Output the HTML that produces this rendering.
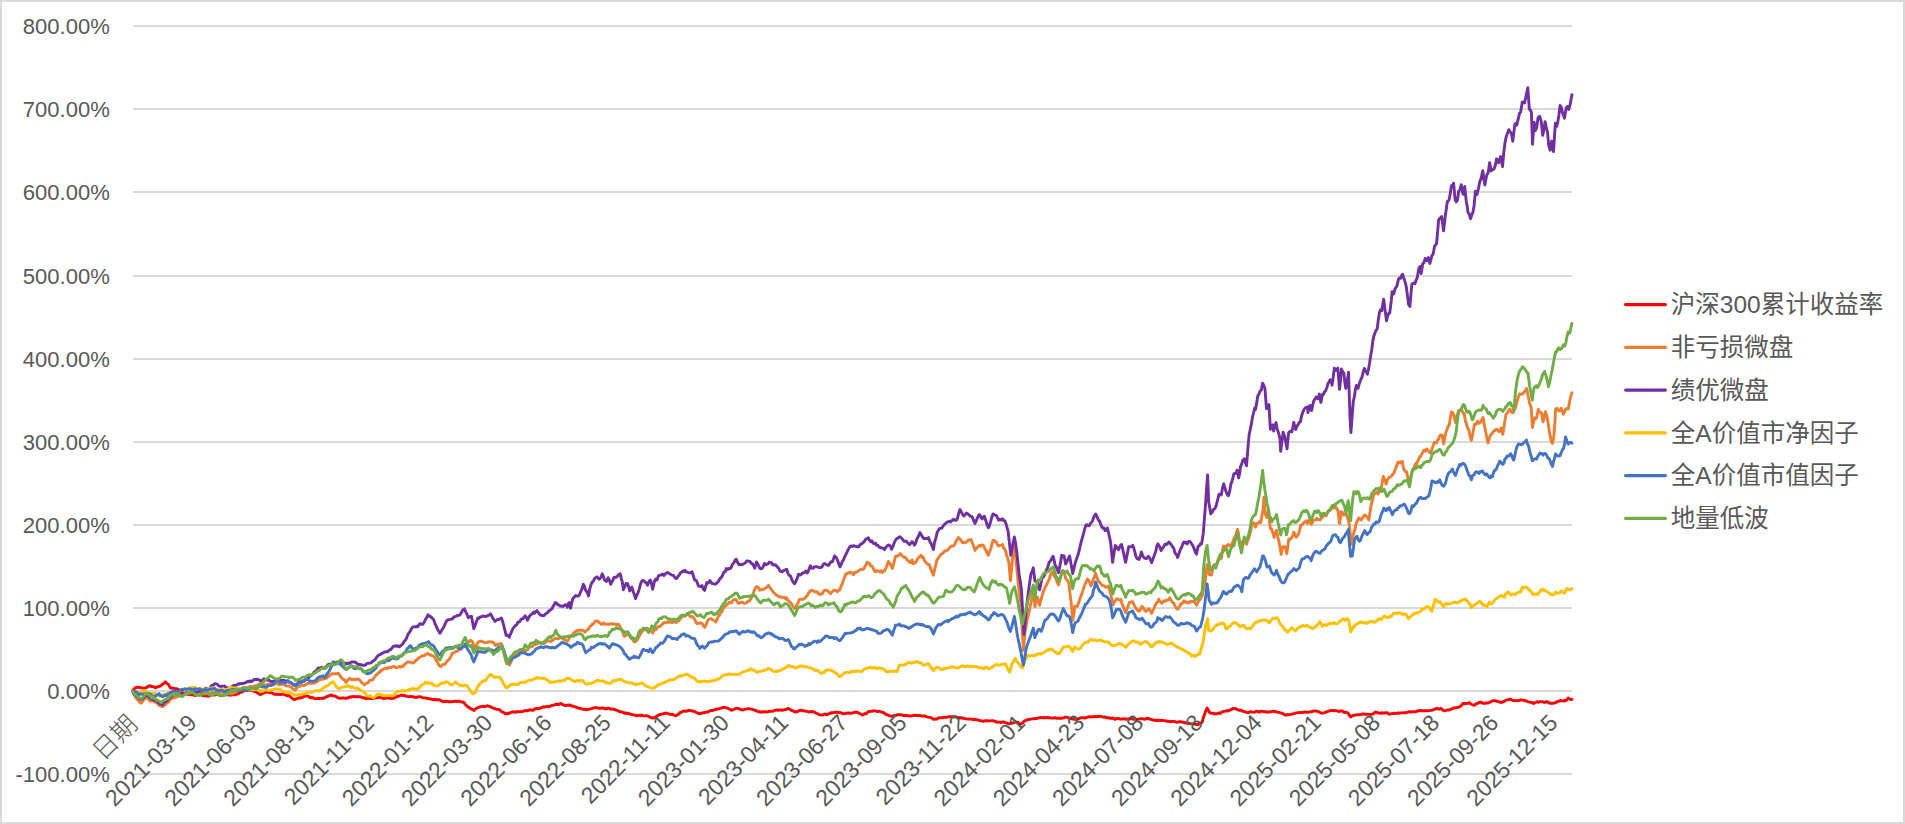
<!DOCTYPE html>
<html lang="zh-CN"><head><meta charset="utf-8"><title>累计收益率</title>
<style>
html,body{margin:0;padding:0;background:#fff;}
body{width:1905px;height:824px;overflow:hidden;}
svg{display:block;}
.ax{font-family:"Liberation Sans","Noto Sans CJK SC",sans-serif;font-size:23px;fill:#595959;}
.lg{font-family:"Liberation Sans","Noto Sans CJK SC",sans-serif;font-size:24.5px;fill:#595959;}
.ser polyline{fill:none;stroke-width:2.9;stroke-linejoin:round;stroke-linecap:round;}
</style></head><body>
<svg width="1905" height="824" viewBox="0 0 1905 824">
<rect x="0" y="0" width="1905" height="824" fill="#fff"/>
<rect x="1" y="1" width="1903" height="822" fill="none" stroke="#D9D9D9" stroke-width="2"/>
<g stroke="#D9D9D9" stroke-width="2">
<line x1="133" y1="26" x2="1572" y2="26"/>
<line x1="133" y1="109" x2="1572" y2="109"/>
<line x1="133" y1="192" x2="1572" y2="192"/>
<line x1="133" y1="276" x2="1572" y2="276"/>
<line x1="133" y1="359" x2="1572" y2="359"/>
<line x1="133" y1="442" x2="1572" y2="442"/>
<line x1="133" y1="525" x2="1572" y2="525"/>
<line x1="133" y1="608" x2="1572" y2="608"/>
<line x1="133" y1="691" x2="1572" y2="691"/>
<line x1="133" y1="774" x2="1572" y2="774"/>
</g>
<g class="ax" text-anchor="end">
<text transform="translate(109.8,33.7) scale(0.985,1)" font-size="22.4">800.00%</text>
<text transform="translate(109.8,116.7) scale(0.985,1)" font-size="22.4">700.00%</text>
<text transform="translate(109.8,199.7) scale(0.985,1)" font-size="22.4">600.00%</text>
<text transform="translate(109.8,283.7) scale(0.985,1)" font-size="22.4">500.00%</text>
<text transform="translate(109.8,366.7) scale(0.985,1)" font-size="22.4">400.00%</text>
<text transform="translate(109.8,449.7) scale(0.985,1)" font-size="22.4">300.00%</text>
<text transform="translate(109.8,532.7) scale(0.985,1)" font-size="22.4">200.00%</text>
<text transform="translate(109.8,615.7) scale(0.985,1)" font-size="22.4">100.00%</text>
<text transform="translate(109.8,698.7) scale(0.985,1)" font-size="22.4">0.00%</text>
<text transform="translate(109.8,781.7) scale(0.985,1)" font-size="22.4">-100.00%</text>
</g>
<g class="ser">
<polyline points="132.6,690.6 133.9,689.3 135.1,687.8 136.4,687.6 137.7,687.2 138.9,687.2 140.2,687.5 141.5,687.7 142.7,688.1 144.0,688.1 145.2,688.0 146.5,687.6 147.8,686.4 149.0,686.2 150.3,685.6 151.5,686.5 152.8,686.6 154.1,686.9 155.3,687.9 156.6,687.0 157.9,686.8 159.1,686.4 160.4,686.1 161.6,684.9 162.9,684.0 164.2,683.1 165.4,681.9 166.5,683.2 167.5,684.0 168.6,684.6 169.5,686.5 170.5,688.0 171.7,688.1 173.0,688.2 174.3,688.5 175.5,688.7 176.8,688.7 178.0,689.3 179.3,690.1 180.6,691.4 181.8,692.0 183.1,693.1 184.4,693.5 185.6,693.3 186.9,693.8 188.1,694.6 189.4,694.2 190.7,694.8 191.9,694.8 193.2,694.8 194.4,695.3 195.7,695.5 197.0,694.7 198.2,694.8 199.5,694.8 200.8,694.5 202.0,695.4 203.3,695.6 204.5,695.8 205.8,695.6 207.1,696.1 208.3,696.2 209.6,695.8 210.9,695.3 212.1,694.9 213.4,694.8 214.6,695.1 215.9,694.7 217.2,694.2 218.4,694.6 219.7,695.3 220.9,695.6 222.2,695.1 223.5,695.1 224.7,694.8 226.0,694.7 227.3,694.5 228.5,694.9 229.8,695.2 231.0,695.0 232.3,694.8 233.6,694.6 234.8,694.7 236.1,694.4 237.4,694.0 238.6,693.4 239.9,692.4 241.1,692.2 242.4,691.8 243.7,690.8 244.9,690.4 246.2,690.2 247.4,690.6 248.7,690.0 250.0,690.1 251.2,690.6 252.5,690.5 253.8,691.4 255.0,691.8 256.3,691.9 257.5,692.9 258.8,693.9 260.1,694.5 261.3,694.4 262.6,693.5 263.8,692.9 265.1,692.7 266.4,691.9 267.6,691.9 268.9,692.4 270.2,692.9 271.4,692.6 272.7,693.2 273.9,694.3 275.2,694.2 276.5,694.1 277.7,694.6 279.0,694.2 280.3,694.6 281.5,694.2 282.8,694.0 284.0,694.3 285.3,695.0 286.6,695.5 287.8,695.7 289.1,695.8 290.3,696.9 291.6,697.9 292.9,698.7 294.1,699.5 295.4,699.3 296.7,698.7 297.9,698.4 299.2,697.7 300.4,698.1 301.7,697.7 303.0,697.0 304.2,696.4 305.5,696.1 306.8,695.8 308.0,696.3 309.3,696.9 310.5,697.9 311.8,697.5 313.1,697.7 314.3,698.6 315.6,698.6 316.8,698.6 318.1,698.3 319.4,698.5 320.6,698.4 321.9,698.1 323.2,698.4 324.4,697.9 325.7,697.2 326.9,696.6 328.2,696.1 329.5,695.6 330.7,695.0 332.0,695.2 333.2,695.9 334.5,696.0 335.8,696.3 337.0,697.2 338.3,697.9 339.6,698.4 340.8,698.1 342.1,698.0 343.3,697.9 344.6,698.2 345.9,698.5 347.1,697.9 348.4,697.8 349.7,697.0 350.9,697.0 352.2,696.6 353.4,696.5 354.6,696.9 355.8,696.7 357.0,696.7 358.2,696.8 359.5,696.6 360.6,696.8 361.8,697.4 363.0,697.8 364.2,697.7 365.4,698.6 366.6,698.1 367.7,698.5 368.9,698.2 370.1,698.3 371.2,698.5 372.4,698.4 373.5,698.5 374.7,697.9 375.8,697.5 377.0,697.8 378.1,697.6 379.3,697.4 380.4,697.1 381.5,697.9 382.8,698.1 384.0,698.5 385.2,698.1 386.5,698.1 387.7,697.7 388.9,698.0 390.1,698.5 391.4,698.1 392.6,698.3 393.8,698.3 395.0,697.7 396.1,696.6 397.3,696.7 398.5,696.2 399.7,695.6 400.9,695.3 402.1,695.0 403.3,695.6 404.5,695.3 405.7,695.8 407.0,696.3 408.2,696.7 409.4,696.6 410.6,696.4 411.9,696.8 413.1,696.6 414.3,697.0 415.5,697.5 416.8,697.4 418.0,696.8 419.2,696.9 420.5,696.7 421.7,697.3 422.9,697.7 424.1,697.9 425.4,697.9 426.6,698.3 427.8,698.4 429.0,698.9 430.3,698.8 431.5,699.1 432.7,699.5 433.9,699.8 435.2,699.1 436.3,700.0 437.4,699.7 438.6,699.8 439.7,699.8 440.8,700.8 441.9,700.9 443.1,701.8 444.2,701.5 445.4,701.5 446.6,701.3 447.8,701.4 449.0,701.9 450.2,701.7 451.3,701.7 452.5,701.5 453.8,701.6 455.0,701.2 456.2,701.2 457.4,701.7 458.7,701.2 459.9,701.3 461.1,701.8 462.3,702.1 463.6,702.1 464.7,703.7 465.9,705.1 467.1,706.0 468.3,707.3 469.4,707.5 470.5,708.6 471.6,709.1 472.7,709.6 473.8,710.4 474.9,709.2 476.0,708.7 477.1,707.9 478.2,707.6 479.3,707.0 480.5,706.7 481.7,706.6 482.9,706.1 484.1,706.6 485.3,706.5 486.4,705.9 487.6,705.8 488.8,706.4 490.0,706.4 491.2,707.1 492.4,707.7 493.5,708.2 494.7,708.5 495.9,709.1 497.1,709.4 498.3,709.4 499.4,709.6 500.5,710.6 501.6,711.6 502.8,712.1 503.9,712.5 505.0,713.8 506.2,713.8 507.4,713.4 508.7,713.7 509.9,712.7 511.2,712.3 512.5,711.8 513.6,712.0 514.8,712.0 516.0,712.2 517.2,711.7 518.4,711.6 519.6,711.6 520.7,711.8 521.9,711.6 523.1,711.4 524.3,710.8 525.5,710.6 526.7,710.7 527.8,710.6 529.0,710.1 530.2,709.7 531.4,710.1 532.6,710.3 533.8,710.0 534.9,708.7 536.1,708.7 537.3,708.5 538.5,708.7 539.7,708.4 540.9,707.7 542.0,707.7 543.2,706.8 544.4,707.0 545.6,706.9 546.8,706.4 547.9,706.7 549.1,706.9 550.3,706.0 551.5,705.5 552.7,705.4 553.9,705.1 555.0,704.7 556.2,704.1 557.4,704.5 558.6,704.5 559.8,703.6 560.9,703.4 562.0,704.3 563.2,704.7 564.3,705.4 565.4,705.6 566.5,705.3 567.7,705.3 568.8,705.0 570.0,705.2 571.2,705.6 572.4,706.2 573.6,706.3 574.8,706.7 575.9,707.2 577.1,707.5 578.3,708.1 579.5,708.3 580.7,708.5 581.9,709.0 583.0,709.2 584.2,709.2 585.4,709.3 586.6,709.8 587.8,709.4 589.0,709.2 590.1,708.9 591.3,708.7 592.5,708.4 593.7,707.7 594.9,707.6 596.1,707.6 597.2,708.0 598.4,708.0 599.6,708.3 600.8,708.2 602.0,707.8 603.2,708.2 604.3,708.3 605.5,709.0 606.7,708.7 607.9,708.1 609.1,708.2 610.3,709.1 611.4,709.2 612.6,709.0 613.8,709.1 615.0,709.7 616.2,710.1 617.4,710.4 618.5,711.2 619.7,711.6 620.9,711.7 622.1,712.1 623.3,712.8 624.4,712.6 625.6,713.5 626.8,713.2 628.0,713.3 629.2,713.8 630.4,713.9 631.5,714.5 632.7,714.8 633.9,714.9 635.0,715.0 636.2,715.7 637.3,715.7 638.4,715.4 639.5,715.2 640.7,715.8 641.8,714.9 642.9,715.6 644.1,715.9 645.2,715.9 646.3,715.5 647.5,716.0 648.7,716.4 649.9,717.1 651.0,717.6 652.2,717.8 653.4,718.0 654.5,717.7 655.6,717.0 656.7,716.3 657.8,715.5 658.9,714.8 660.1,714.5 661.2,714.2 662.3,714.1 663.4,713.6 664.6,713.5 665.7,713.0 666.8,713.4 668.0,713.6 669.2,714.1 670.4,714.3 671.5,714.5 672.7,714.3 673.9,715.2 675.1,715.5 676.3,715.7 677.5,714.7 678.8,713.9 680.1,712.5 681.3,712.1 682.6,711.6 683.8,711.0 685.0,711.1 686.1,711.4 687.3,710.9 688.5,710.5 689.7,710.5 690.9,710.6 692.1,711.0 693.3,711.0 694.6,711.6 695.8,712.3 697.1,712.8 698.4,713.3 699.6,713.8 700.9,713.2 702.1,713.0 703.4,712.7 704.7,712.8 705.8,712.3 706.9,712.1 708.0,712.0 709.2,711.2 710.3,710.6 711.4,710.5 712.6,710.5 713.7,709.9 714.8,709.7 715.9,709.2 717.1,709.2 718.2,709.0 719.3,708.7 720.4,708.2 721.7,708.1 723.0,707.4 724.2,707.3 725.5,707.6 726.8,707.9 727.9,708.3 729.1,709.1 730.3,709.4 731.5,710.4 732.7,709.6 733.8,709.3 735.0,708.9 736.2,708.3 737.5,708.4 738.7,708.7 740.0,709.1 741.3,709.7 742.5,710.0 743.7,709.7 744.8,709.2 745.9,709.1 747.0,708.9 748.2,708.6 749.3,708.7 750.4,708.9 751.7,709.1 752.9,709.6 754.2,709.9 755.5,710.9 756.7,710.8 758.0,711.6 759.2,711.8 760.5,712.3 761.8,711.7 763.0,712.1 764.3,711.7 765.6,711.7 766.8,712.0 768.1,711.6 769.3,711.1 770.6,711.4 771.9,711.3 773.1,711.0 774.4,710.6 775.6,710.1 776.9,710.0 778.2,710.3 779.4,709.9 780.7,710.0 782.0,710.2 783.2,710.0 784.5,709.6 785.7,709.5 787.0,709.1 788.3,708.4 789.5,709.1 790.8,709.9 792.1,710.6 793.3,710.9 794.6,711.7 795.8,712.1 797.1,711.5 798.4,711.1 799.6,710.5 800.9,710.2 802.1,710.5 803.4,710.9 804.7,711.0 805.9,711.0 807.2,711.5 808.5,712.0 809.7,711.8 811.0,711.5 812.2,711.8 813.5,711.6 814.6,712.2 815.8,713.0 816.9,713.6 818.0,713.7 819.1,714.7 820.3,714.9 821.4,715.0 822.5,714.9 823.6,714.6 824.8,713.9 825.9,714.5 827.0,714.7 828.1,714.0 829.3,713.7 830.5,712.8 831.8,713.0 833.1,712.6 834.3,712.4 835.6,712.2 836.7,712.3 837.8,712.2 839.0,712.6 840.1,712.5 841.2,712.9 842.3,713.3 843.5,713.8 844.7,713.6 846.0,713.2 847.3,713.2 848.5,712.9 849.8,713.2 851.0,713.3 852.3,713.0 853.6,712.6 854.8,712.3 856.1,712.1 857.4,712.3 858.6,713.0 859.9,713.7 861.1,714.3 862.4,715.0 863.7,714.3 864.9,713.6 866.2,713.8 867.4,712.3 868.7,711.5 870.0,711.4 871.2,711.2 872.5,711.2 873.8,710.9 875.0,710.8 876.3,711.1 877.5,711.6 878.8,711.3 880.1,711.4 881.3,712.1 882.5,712.3 883.7,712.7 884.9,713.7 886.1,714.4 887.3,714.8 888.6,715.4 889.8,715.8 891.1,716.2 892.4,716.3 893.6,715.6 894.9,715.4 896.2,715.2 897.4,714.8 898.7,714.6 899.9,714.8 901.0,714.7 902.2,715.0 903.4,715.6 904.6,715.4 905.8,715.5 907.0,715.5 908.1,715.7 909.3,715.9 910.5,716.1 911.7,715.7 912.9,715.6 914.1,715.5 915.2,715.0 916.4,715.5 917.6,715.6 918.7,715.3 919.9,715.7 921.0,715.7 922.1,716.0 923.2,716.2 924.4,715.8 925.5,716.1 926.6,716.9 927.7,717.1 928.9,717.3 930.0,717.4 931.1,717.6 932.2,718.4 933.4,719.4 934.6,719.2 935.8,718.9 937.0,719.1 938.2,718.3 939.5,717.6 940.7,717.8 942.0,717.9 943.2,717.5 944.5,717.1 945.8,717.4 947.0,717.3 948.1,716.9 949.3,716.8 950.5,716.7 951.7,716.8 952.9,716.8 954.1,716.7 955.2,716.6 956.4,717.1 957.6,717.7 958.8,717.6 960.0,718.0 961.2,717.8 962.3,718.0 963.5,718.4 964.7,718.6 965.9,718.9 967.1,718.9 968.2,719.1 969.4,718.8 970.6,719.1 971.8,719.1 973.0,719.5 974.2,719.7 975.3,719.2 976.5,719.6 977.7,720.1 978.9,720.2 980.1,720.8 981.3,720.9 982.4,721.0 983.6,721.4 984.8,720.8 986.0,720.7 987.2,720.7 988.4,721.0 989.5,720.9 990.7,720.9 991.9,720.6 993.1,720.6 994.2,721.4 995.3,721.3 996.5,722.2 997.6,722.0 998.7,722.1 999.9,722.3 1001.0,722.5 1002.2,722.3 1003.3,721.8 1004.5,722.3 1005.7,722.7 1006.9,722.9 1008.1,723.8 1009.3,723.7 1010.4,723.3 1011.6,723.4 1012.8,722.9 1014.0,722.8 1015.2,721.6 1016.4,722.4 1017.5,722.1 1018.7,723.4 1019.9,724.4 1021.1,723.6 1022.3,723.3 1023.5,722.1 1024.6,720.8 1025.9,720.4 1027.2,719.8 1028.4,719.4 1029.7,719.3 1030.9,719.1 1032.1,718.9 1033.3,718.6 1034.5,718.7 1035.7,718.6 1036.9,718.3 1038.0,718.2 1039.2,717.9 1040.4,717.4 1041.6,717.8 1042.8,717.9 1044.0,717.5 1045.1,717.8 1046.3,717.8 1047.5,717.3 1048.7,717.8 1049.9,717.7 1051.1,718.1 1052.2,718.1 1053.4,718.1 1054.6,717.6 1055.8,718.1 1057.0,718.2 1058.2,718.2 1059.3,718.3 1060.5,718.3 1061.6,718.3 1062.7,718.0 1063.8,717.9 1065.0,717.1 1066.1,717.1 1067.2,717.4 1068.4,718.0 1069.5,718.0 1070.6,718.2 1071.7,718.9 1072.9,718.9 1074.0,719.3 1075.1,719.4 1076.4,719.4 1077.6,719.2 1078.9,718.5 1080.2,718.1 1081.4,717.6 1082.5,717.6 1083.7,717.8 1084.8,718.2 1085.9,717.6 1087.1,717.2 1088.2,717.1 1089.3,716.7 1090.5,716.8 1091.7,717.0 1092.9,716.8 1094.0,716.9 1095.2,716.4 1096.4,716.7 1097.6,716.3 1098.8,716.5 1100.0,716.3 1101.1,716.4 1102.3,716.9 1103.5,717.1 1104.7,717.0 1105.9,717.4 1107.1,717.9 1108.2,717.7 1109.4,718.0 1110.6,718.4 1111.8,718.4 1113.0,717.9 1114.1,718.8 1115.3,719.3 1116.5,718.5 1117.7,718.4 1118.9,718.7 1120.1,719.0 1121.2,719.1 1122.4,719.0 1123.6,718.7 1124.8,718.9 1126.0,719.3 1127.2,719.0 1128.3,718.8 1129.5,719.0 1130.7,718.6 1131.9,718.8 1133.1,719.0 1134.3,719.4 1135.4,719.3 1136.6,719.6 1137.8,719.1 1139.0,719.1 1140.2,718.8 1141.4,718.7 1142.5,718.9 1143.7,719.0 1144.9,719.3 1146.1,718.4 1147.3,718.7 1148.5,718.2 1149.6,719.3 1150.8,719.3 1152.0,719.7 1153.2,720.1 1154.4,720.0 1155.6,720.6 1156.7,720.6 1157.9,720.0 1159.1,720.3 1160.3,720.8 1161.5,720.2 1162.6,720.6 1163.8,720.6 1165.0,720.7 1166.2,721.0 1167.4,721.4 1168.6,721.3 1169.7,721.6 1170.9,721.4 1172.1,721.6 1173.3,721.4 1174.5,721.4 1175.7,722.1 1176.8,722.2 1178.0,722.1 1179.2,721.7 1180.4,721.6 1181.6,721.9 1182.8,722.3 1183.9,722.3 1185.1,722.8 1186.2,722.9 1187.3,723.5 1188.4,723.4 1189.6,723.4 1190.7,723.9 1191.8,723.9 1193.1,724.1 1194.4,724.0 1195.6,724.1 1196.9,724.5 1198.1,724.7 1199.5,723.6 1200.8,723.0 1202.1,722.2 1203.4,717.6 1204.8,713.6 1205.9,710.7 1207.1,708.0 1208.5,710.5 1210.0,713.0 1211.1,713.1 1212.2,713.3 1213.3,713.2 1214.4,714.0 1215.5,713.7 1216.8,713.8 1218.0,713.2 1219.3,713.0 1220.5,713.3 1221.8,712.0 1223.0,711.5 1224.2,711.4 1225.5,711.1 1226.7,710.6 1227.9,711.0 1229.1,710.6 1230.3,709.7 1231.5,709.6 1232.7,708.5 1233.9,708.4 1235.2,708.6 1236.5,709.1 1237.9,709.8 1239.0,710.3 1240.2,710.2 1241.4,710.1 1242.6,711.1 1243.8,711.6 1245.0,711.7 1246.1,712.3 1247.3,712.6 1248.6,712.7 1249.8,711.8 1251.1,711.8 1252.4,712.1 1253.6,712.1 1254.8,712.3 1255.9,711.3 1257.0,711.4 1258.1,711.5 1259.3,712.2 1260.4,711.5 1261.5,711.2 1262.8,711.4 1264.0,711.8 1265.3,711.7 1266.6,712.2 1267.8,712.0 1269.1,712.0 1270.3,711.7 1271.6,711.7 1272.9,711.4 1274.1,711.2 1275.4,711.6 1276.7,712.0 1277.9,712.1 1279.2,712.4 1280.4,712.9 1281.6,713.1 1282.8,713.6 1284.0,714.3 1285.1,714.9 1286.3,715.2 1287.4,714.4 1288.6,714.7 1289.7,714.6 1290.8,714.4 1291.9,714.0 1293.1,713.9 1294.2,713.6 1295.3,713.1 1296.4,712.9 1297.6,712.8 1298.7,712.6 1299.8,712.3 1301.0,712.6 1302.1,712.5 1303.3,712.4 1304.6,712.0 1305.9,712.1 1307.1,712.4 1308.4,712.2 1309.5,711.9 1310.6,711.8 1311.8,711.7 1312.9,711.1 1314.0,710.9 1315.2,711.0 1316.3,711.1 1317.5,711.3 1318.8,711.9 1320.1,712.5 1321.3,713.0 1322.6,713.1 1323.8,712.8 1325.1,712.4 1326.4,712.0 1327.6,711.5 1328.9,711.2 1330.2,710.6 1331.4,710.5 1332.7,710.6 1333.9,710.3 1335.2,710.6 1336.3,710.8 1337.5,710.9 1338.6,711.7 1339.7,710.9 1340.8,711.1 1342.0,710.8 1343.1,711.6 1344.3,712.6 1345.5,712.0 1346.6,712.4 1347.8,712.8 1349.2,714.9 1350.5,717.1 1351.7,715.9 1352.9,715.7 1354.1,715.2 1355.3,715.1 1356.4,714.8 1357.5,714.9 1358.6,714.7 1359.8,714.6 1360.9,714.4 1362.0,714.1 1363.1,713.8 1364.3,714.1 1365.4,714.4 1366.5,714.1 1367.7,714.2 1368.8,714.4 1369.9,714.4 1371.2,714.4 1372.4,714.4 1373.7,713.4 1375.0,712.2 1376.2,712.1 1377.5,712.7 1378.7,713.0 1380.0,713.2 1381.3,713.0 1382.5,712.8 1383.7,713.2 1384.8,713.0 1385.9,712.6 1387.0,712.6 1388.2,713.6 1389.3,714.3 1390.4,713.8 1391.6,713.6 1392.9,713.5 1394.1,713.2 1395.3,713.6 1396.5,713.4 1397.8,712.9 1399.0,713.3 1400.2,712.9 1401.5,712.9 1402.6,712.9 1403.8,712.8 1405.0,712.9 1406.2,712.7 1407.4,712.2 1408.5,711.7 1409.7,711.6 1410.9,712.3 1412.0,711.8 1413.2,711.8 1414.3,711.9 1415.4,711.8 1416.5,711.4 1417.7,711.0 1418.8,710.8 1420.0,710.4 1421.2,710.7 1422.4,710.8 1423.5,710.7 1424.7,710.6 1425.9,710.9 1427.1,710.7 1428.3,710.6 1429.4,710.6 1430.6,710.4 1431.8,710.4 1433.0,709.8 1434.2,709.4 1435.4,708.9 1436.5,708.5 1437.7,708.7 1438.8,709.1 1439.8,708.8 1440.9,708.3 1442.2,709.6 1443.5,710.5 1444.8,710.9 1445.9,710.5 1447.0,710.0 1448.1,709.9 1449.2,710.0 1450.3,709.4 1451.5,709.0 1452.6,708.6 1453.7,708.1 1454.9,707.7 1456.0,708.0 1457.1,707.5 1458.2,707.3 1459.4,706.9 1460.6,706.1 1461.8,705.0 1463.0,703.5 1464.2,703.5 1465.5,703.7 1466.8,703.4 1468.0,703.4 1469.3,702.6 1470.6,703.8 1471.9,704.5 1473.2,705.1 1474.4,705.2 1475.6,704.1 1476.8,703.6 1477.9,703.3 1479.1,702.6 1480.3,702.2 1481.6,702.5 1482.8,703.2 1484.1,703.3 1485.4,703.4 1486.6,702.9 1487.8,703.1 1488.9,702.7 1490.0,702.2 1491.1,701.5 1492.3,701.2 1493.4,700.6 1494.5,700.6 1495.6,700.9 1496.8,701.2 1497.9,701.6 1499.0,701.6 1500.1,702.3 1501.3,702.3 1502.4,702.3 1503.6,701.6 1504.8,701.0 1505.9,700.3 1507.1,699.9 1508.3,699.6 1509.5,699.2 1510.6,699.2 1511.7,700.0 1512.8,700.5 1513.9,700.6 1515.0,700.8 1516.2,700.6 1517.4,700.5 1518.6,700.6 1519.7,700.3 1520.9,699.8 1522.0,700.1 1523.1,700.1 1524.3,700.6 1525.4,700.7 1526.5,701.0 1527.6,701.6 1528.7,701.9 1529.8,702.2 1530.9,702.4 1532.1,702.4 1533.2,703.5 1534.3,702.9 1535.4,702.7 1536.5,702.0 1537.6,701.6 1538.7,702.3 1539.8,701.6 1540.9,701.6 1542.1,701.7 1543.2,702.0 1544.3,702.4 1545.4,702.3 1546.6,701.6 1547.8,702.1 1549.1,702.9 1550.3,703.4 1551.6,703.3 1552.9,703.2 1554.1,703.1 1555.4,702.7 1556.7,702.1 1557.9,701.3 1559.2,701.2 1560.4,700.5 1561.7,700.9 1563.0,701.0 1564.2,700.5 1565.5,700.8 1566.9,699.8 1568.3,698.0 1569.6,698.9 1570.8,699.5 1572.0,699.4" stroke="#FF0000"/>
<polyline points="132.6,691.2 133.9,693.6 135.1,696.2 136.4,698.4 137.7,699.9 138.9,701.1 140.2,702.8 141.5,703.1 142.7,701.2 144.0,699.4 145.2,698.2 146.5,697.6 147.8,698.5 149.0,699.9 150.3,701.2 151.5,700.9 152.8,701.0 154.1,701.8 155.3,702.1 156.6,703.2 157.9,703.8 159.1,705.5 160.4,705.8 161.6,706.6 162.9,706.6 164.2,705.4 165.4,704.8 166.7,703.2 167.9,702.5 169.2,701.2 170.5,699.2 171.7,698.9 173.0,697.9 174.3,698.2 175.5,697.3 176.8,696.8 178.0,696.5 179.3,696.0 180.6,695.8 181.8,695.1 183.1,695.1 184.4,694.8 185.6,694.5 186.9,692.7 188.1,693.4 189.4,693.2 190.7,692.6 191.9,692.3 193.2,692.6 194.4,693.1 195.7,692.4 197.0,693.2 198.2,692.6 199.5,693.8 200.8,693.2 202.0,693.2 203.3,692.6 204.5,691.8 205.8,692.0 207.1,692.7 208.3,693.4 209.6,693.6 210.9,693.0 212.1,692.0 213.4,692.2 214.6,691.6 215.9,691.3 217.2,691.7 218.4,691.9 219.7,691.7 220.9,691.8 222.2,692.0 223.5,692.5 224.7,693.2 226.0,693.9 227.3,693.6 228.5,693.4 229.8,693.8 231.0,693.6 232.3,693.9 233.6,692.6 234.8,692.3 236.1,692.3 237.4,690.7 238.6,689.9 239.9,689.8 241.1,689.5 242.4,689.9 243.7,688.7 244.9,687.4 246.2,687.4 247.4,687.6 248.7,687.4 250.0,686.4 251.2,686.7 252.5,686.9 253.8,686.5 255.0,685.9 256.3,685.5 257.5,685.4 258.8,684.3 260.1,683.5 261.3,684.0 262.6,684.5 263.8,684.6 265.1,685.2 266.4,684.9 267.6,684.5 268.9,684.1 270.2,684.1 271.4,684.1 272.7,683.7 273.9,684.2 275.2,684.1 276.5,682.5 277.7,683.8 279.0,684.8 280.3,684.6 281.5,684.1 282.8,684.1 284.0,684.6 285.3,685.5 286.6,685.9 287.8,686.1 289.1,685.8 290.3,687.0 291.6,687.1 292.9,688.8 294.1,689.5 295.4,690.3 296.7,688.3 297.9,686.6 299.2,686.0 300.4,686.2 301.7,685.1 303.0,685.4 304.2,685.5 305.5,684.7 306.8,683.9 308.0,683.2 309.3,683.1 310.5,683.4 311.8,683.3 313.1,682.2 314.3,683.2 315.6,681.5 316.8,681.8 318.1,680.7 319.4,680.0 320.6,679.2 321.9,679.3 323.2,679.0 324.4,678.9 325.7,678.5 326.9,677.9 328.2,676.5 329.5,675.5 330.7,674.7 332.0,673.7 333.2,673.9 334.5,673.7 335.8,673.7 337.0,673.7 338.3,673.2 339.6,674.9 340.8,676.9 342.1,678.5 343.3,679.5 344.6,679.7 345.9,682.4 347.1,681.1 348.4,679.6 349.7,678.2 350.9,679.3 352.2,679.7 353.4,679.2 354.7,679.1 355.8,680.0 356.8,679.0 357.9,679.0 359.1,679.5 360.4,680.9 361.7,682.7 362.9,683.5 364.2,684.7 365.5,683.9 366.7,683.1 368.0,682.8 369.2,680.8 370.5,680.1 371.6,680.2 372.8,679.8 373.9,677.9 375.0,676.6 376.1,675.0 377.3,674.2 378.4,672.6 379.5,672.4 380.6,670.7 381.8,670.4 382.9,669.3 384.0,669.0 385.2,668.4 386.3,667.8 387.4,668.6 388.5,667.7 389.7,667.4 390.8,667.9 391.9,667.0 393.0,666.8 394.2,666.3 395.4,667.6 396.7,667.8 397.9,667.0 399.2,666.5 400.5,667.2 401.7,666.2 403.0,666.6 404.3,664.6 405.5,663.9 406.8,662.3 408.0,662.0 409.3,661.9 410.6,662.4 411.8,662.5 413.1,663.1 414.4,662.2 415.6,660.6 416.9,659.9 418.1,658.5 419.4,657.5 420.5,657.0 421.7,656.0 422.8,655.7 423.9,655.9 425.0,655.0 426.2,654.1 427.3,653.4 428.5,654.0 429.8,655.2 431.1,654.8 432.3,655.9 433.6,656.2 434.9,657.6 436.1,660.7 437.4,661.9 438.6,664.8 439.9,666.2 441.2,666.5 442.4,664.7 443.7,664.4 445.0,664.2 446.2,662.3 447.5,660.7 448.7,660.2 450.0,658.0 451.3,655.7 452.5,653.2 453.8,652.7 455.0,652.0 456.3,651.2 457.6,651.3 458.8,649.5 460.1,649.2 461.4,649.0 462.6,647.2 463.9,646.9 465.1,646.0 466.4,644.9 467.7,643.3 468.9,642.0 470.2,640.3 471.5,640.8 472.5,641.8 473.6,645.0 474.6,648.4 475.8,645.9 477.0,644.4 478.2,641.9 479.3,641.7 480.6,641.2 481.9,641.5 483.1,641.9 484.4,642.6 485.6,642.7 486.8,642.4 488.0,642.0 489.2,642.0 490.4,641.6 491.6,642.2 492.7,642.0 493.9,643.0 495.1,645.3 496.4,645.2 497.6,644.2 498.9,644.4 500.2,643.8 501.4,643.7 502.6,647.4 503.8,652.8 505.0,657.7 506.2,662.4 507.2,662.6 508.3,663.0 509.3,664.9 510.5,662.9 511.7,660.1 512.9,656.9 514.0,655.4 515.3,655.5 516.6,654.0 517.8,653.4 519.1,652.9 520.3,652.2 521.5,651.8 522.7,650.9 523.9,650.3 525.1,651.5 526.3,650.1 527.6,649.8 528.9,647.8 530.1,646.9 531.4,646.6 532.6,646.3 533.9,644.8 535.2,644.5 536.4,643.9 537.7,642.7 539.0,643.3 540.2,643.0 541.5,643.0 542.7,643.5 544.0,643.5 545.3,642.4 546.5,641.8 547.8,640.9 549.1,640.8 550.3,641.7 551.5,640.4 552.7,640.6 553.9,639.1 555.0,638.4 556.3,638.6 557.6,638.6 558.8,638.7 560.1,637.7 561.4,637.6 562.6,638.5 563.9,639.4 565.1,639.8 566.4,641.0 567.7,640.7 568.9,638.8 570.2,636.5 571.5,636.1 572.7,634.3 574.0,632.9 575.2,631.6 576.5,631.2 577.8,630.3 579.0,630.1 580.3,630.4 581.5,630.1 582.6,630.3 583.8,631.1 585.0,632.1 586.3,630.6 587.5,629.7 588.8,628.8 590.1,626.2 591.3,625.7 592.4,623.9 593.5,623.8 594.6,622.0 595.7,621.0 596.8,621.0 597.9,621.1 599.1,622.6 600.2,623.0 601.3,624.4 602.4,624.4 603.6,622.9 604.9,624.0 606.2,624.2 607.4,624.4 608.7,624.0 609.9,624.4 611.2,623.5 612.5,624.2 613.7,623.8 615.0,624.2 616.2,624.9 617.4,624.2 618.5,624.2 619.7,626.1 620.9,628.5 622.1,630.9 623.3,633.8 624.4,636.3 625.6,635.3 626.8,635.0 628.0,634.6 629.2,634.5 630.4,636.0 631.7,638.3 633.0,640.2 634.2,641.8 635.5,641.6 636.7,640.8 637.9,638.8 639.0,636.7 640.2,634.3 641.4,632.7 642.6,630.7 643.8,630.2 645.0,628.3 646.0,628.6 647.1,628.2 648.2,629.0 649.3,630.0 650.4,630.7 651.5,631.4 652.6,633.0 653.8,630.9 655.0,629.5 656.2,629.6 657.4,627.3 658.5,626.5 659.7,626.6 660.9,625.5 662.1,624.2 663.2,623.5 664.3,622.4 665.4,622.8 666.5,622.6 667.6,621.6 668.7,622.2 669.8,622.2 670.9,621.7 672.0,622.6 673.1,622.1 674.3,621.9 675.5,622.2 676.7,622.5 677.9,620.9 679.0,620.7 680.2,619.0 681.4,617.4 682.6,616.3 683.8,615.9 685.0,616.2 686.1,614.8 687.3,613.5 688.5,613.8 689.7,616.1 690.9,617.0 692.1,616.3 693.4,617.5 694.7,619.3 696.0,622.3 697.2,623.7 698.4,623.4 699.5,623.0 700.7,623.0 702.0,623.3 703.4,625.8 704.7,627.4 706.0,625.1 707.3,621.4 708.6,619.2 709.9,618.9 711.2,618.7 712.6,619.7 713.6,620.4 714.7,620.6 715.7,622.1 716.9,620.2 718.1,616.6 719.3,615.6 720.4,613.1 721.5,612.4 722.6,609.5 723.8,607.7 724.9,606.3 726.0,605.8 727.1,604.4 728.2,603.6 729.3,602.1 730.4,602.1 731.5,602.9 732.7,600.5 733.8,599.6 735.0,599.5 736.2,599.6 737.4,602.1 738.6,603.5 739.7,602.8 740.8,602.3 741.9,602.2 743.0,602.6 744.1,603.1 745.3,603.4 746.5,602.8 747.6,601.4 748.8,601.4 750.1,600.1 751.5,597.7 752.8,594.8 754.1,590.9 755.4,587.9 756.7,586.6 757.8,587.2 758.8,587.9 759.9,590.3 761.1,589.6 762.2,589.6 763.4,589.4 764.6,588.9 765.9,587.7 767.2,587.2 768.5,585.2 769.9,587.5 771.2,589.3 772.5,590.9 773.7,592.7 774.9,593.4 776.0,594.9 777.2,595.3 778.4,596.6 779.6,596.7 780.8,596.9 782.0,597.6 783.1,597.2 784.3,597.1 785.5,599.0 786.7,597.8 788.0,600.6 789.3,601.4 790.6,602.6 791.9,604.5 793.3,606.7 794.6,608.6 795.8,607.3 796.9,604.6 798.1,603.1 799.3,599.7 800.6,599.2 801.9,599.3 803.2,599.3 804.6,598.4 805.9,597.2 807.2,595.6 808.5,593.2 809.8,591.6 811.1,590.4 812.5,590.4 813.8,591.3 815.1,592.0 816.3,591.7 817.4,592.0 818.6,593.9 819.8,594.5 821.0,594.1 822.2,593.9 823.4,591.6 824.5,590.2 825.7,590.1 826.9,590.4 828.1,591.1 829.3,592.7 830.5,593.7 831.6,592.1 832.8,591.2 834.0,590.2 835.1,590.3 836.2,590.8 837.3,591.8 838.4,590.4 839.5,590.1 840.8,586.9 842.2,584.0 843.5,580.1 844.7,576.9 845.8,574.0 847.0,573.4 848.2,572.9 849.3,573.1 850.4,572.1 851.5,572.9 852.6,573.4 853.7,574.7 854.8,572.3 855.9,572.4 857.0,572.0 858.1,571.0 859.2,570.3 860.6,569.6 861.9,569.5 863.2,569.4 864.5,567.4 865.8,564.9 867.1,562.3 868.3,563.0 869.5,563.4 870.7,565.9 871.9,566.1 873.0,567.9 874.2,570.4 875.4,571.8 876.6,570.6 877.8,571.2 879.0,571.2 880.1,572.0 881.3,570.6 882.4,572.4 883.4,571.4 884.5,571.0 885.8,568.1 887.1,565.2 888.4,561.4 889.7,563.4 891.1,565.6 892.4,568.4 893.4,564.6 894.5,560.5 895.5,556.3 896.7,556.0 897.9,556.1 899.1,554.7 900.3,553.5 901.4,555.2 902.6,556.3 903.8,557.2 905.0,557.0 906.2,558.7 907.4,560.4 908.5,560.6 909.7,562.3 910.9,562.6 912.1,559.9 913.3,563.7 914.4,563.0 915.7,562.4 917.0,560.1 918.2,557.9 919.5,556.7 920.8,555.3 921.9,557.2 923.1,556.9 924.3,560.3 925.5,561.8 926.8,563.5 928.1,564.5 929.4,564.6 930.7,568.9 932.1,572.1 933.4,575.2 934.6,569.5 935.9,564.5 937.1,559.4 938.3,558.2 939.5,556.2 940.6,554.9 941.8,553.8 943.1,553.1 944.5,551.2 945.8,550.7 947.0,550.4 948.1,549.7 949.3,548.2 950.5,546.7 951.6,546.0 952.6,546.1 953.7,545.8 954.8,544.1 956.0,541.4 957.2,539.7 958.4,537.5 959.7,538.8 961.0,540.2 962.3,542.5 963.6,542.9 965.0,542.0 966.3,542.2 967.5,541.4 968.6,539.9 969.8,539.6 971.0,539.5 972.3,543.0 973.6,546.0 975.0,550.4 976.3,548.3 977.6,547.2 978.9,545.6 980.1,546.2 981.3,544.9 982.4,545.1 983.6,545.7 984.8,548.6 986.0,550.4 987.2,553.3 988.4,555.3 989.5,551.9 990.7,549.1 991.9,544.4 993.1,540.1 994.1,540.2 995.2,541.4 996.2,541.9 997.4,544.7 998.6,546.0 999.9,545.4 1001.2,545.4 1002.6,544.3 1003.6,548.0 1004.7,548.8 1005.7,551.3 1006.8,555.8 1007.8,558.4 1008.9,562.8 1010.4,580.7 1011.5,570.1 1012.5,558.8 1013.6,545.8 1014.8,552.3 1016.0,559.4 1017.1,571.8 1018.3,584.6 1019.5,594.4 1020.7,603.6 1022.3,632.1 1023.4,650.3 1025.0,632.1 1026.0,627.3 1027.0,620.5 1028.2,615.9 1029.4,610.1 1030.6,604.3 1031.7,599.2 1033.3,591.3 1034.9,606.6 1036.1,601.5 1037.3,597.1 1038.4,600.6 1039.6,605.3 1040.7,600.6 1041.7,597.2 1042.8,593.3 1043.8,590.2 1044.9,588.1 1045.9,586.0 1047.0,584.1 1048.0,581.7 1049.1,579.9 1050.1,576.1 1051.2,573.1 1052.2,571.8 1053.6,574.7 1054.9,577.0 1056.2,579.0 1057.4,582.8 1058.5,585.0 1059.9,579.1 1061.2,575.0 1062.5,570.5 1063.5,572.4 1064.6,573.9 1065.6,578.2 1066.7,579.8 1067.7,580.8 1068.8,582.9 1070.0,593.6 1071.2,602.9 1072.7,620.3 1073.8,613.8 1074.8,606.2 1076.1,606.3 1077.5,606.1 1078.8,602.2 1080.1,598.4 1081.4,594.8 1082.5,591.7 1083.5,588.3 1084.6,585.1 1085.6,583.1 1086.7,580.7 1087.7,578.9 1088.8,581.1 1089.8,582.8 1090.9,586.0 1092.1,583.0 1093.2,579.6 1094.4,577.4 1095.6,573.1 1096.7,577.1 1097.7,579.2 1098.8,581.9 1099.8,582.2 1100.9,583.8 1101.9,585.3 1103.2,585.6 1104.6,586.2 1105.9,587.4 1106.9,587.0 1108.0,586.0 1109.0,587.7 1110.3,592.5 1111.7,598.5 1113.0,605.1 1114.0,602.4 1115.1,601.2 1116.1,599.4 1117.3,598.7 1118.5,599.6 1119.7,600.0 1120.9,599.4 1122.0,603.9 1123.2,606.5 1124.4,609.5 1125.6,612.8 1126.9,609.3 1128.2,605.7 1129.5,602.2 1130.6,602.3 1131.6,601.7 1132.7,601.6 1133.7,603.8 1134.8,606.2 1135.8,608.1 1137.2,609.9 1138.5,611.1 1139.8,610.8 1141.0,608.1 1142.1,606.3 1143.5,608.0 1144.8,610.6 1146.1,611.3 1147.3,610.3 1148.5,608.8 1149.5,609.6 1150.6,611.1 1151.6,613.3 1152.9,610.4 1154.2,608.1 1155.6,604.3 1156.6,603.0 1157.7,601.7 1158.7,599.2 1159.8,601.3 1160.8,602.2 1161.9,603.3 1163.2,601.9 1164.5,600.6 1165.8,601.0 1167.1,600.0 1168.4,599.8 1169.7,597.8 1171.1,600.2 1172.4,602.2 1173.7,603.0 1175.0,605.9 1176.3,608.1 1177.6,609.2 1178.7,607.6 1179.7,606.0 1180.8,603.8 1181.8,604.0 1182.9,602.3 1183.9,600.8 1185.1,602.2 1186.3,601.8 1187.5,603.1 1188.7,602.7 1189.9,601.5 1191.0,602.0 1192.2,601.2 1193.4,601.6 1194.5,601.6 1195.5,603.5 1196.6,605.2 1197.6,603.2 1198.7,600.6 1199.7,600.0 1200.9,597.6 1202.1,596.2 1203.1,591.1 1204.2,586.3 1205.2,581.1 1206.2,571.0 1207.1,564.8 1208.1,568.4 1209.1,574.5 1210.3,574.7 1211.5,575.1 1212.7,568.9 1213.9,565.1 1214.8,564.6 1215.8,566.9 1216.8,564.1 1217.9,561.4 1218.9,559.7 1220.1,559.0 1221.3,558.4 1222.3,552.3 1223.3,546.3 1224.7,546.1 1226.0,547.8 1227.2,545.4 1228.4,544.3 1229.6,545.5 1230.8,546.5 1231.8,544.9 1232.9,541.6 1233.9,538.5 1235.1,536.8 1236.3,533.7 1237.5,529.3 1238.5,533.9 1239.4,540.0 1240.6,542.2 1241.8,544.0 1243.0,541.9 1244.2,539.9 1245.3,542.3 1246.5,544.3 1247.7,540.2 1248.9,537.8 1250.1,532.9 1251.3,527.6 1252.4,523.8 1253.6,522.8 1254.6,523.9 1255.5,527.2 1256.5,524.0 1257.6,523.2 1258.6,522.9 1259.7,521.4 1260.7,522.7 1261.9,516.1 1263.1,509.5 1263.9,497.3 1265.5,514.8 1267.0,517.6 1268.6,510.8 1270.2,528.3 1271.4,528.8 1272.6,531.9 1274.1,537.4 1275.3,532.7 1276.5,530.2 1277.7,536.3 1278.9,541.6 1280.0,547.0 1281.2,554.4 1282.8,546.8 1284.0,546.8 1285.2,546.9 1286.8,553.7 1287.8,546.5 1288.8,539.2 1290.1,539.4 1291.5,537.6 1292.7,536.2 1293.8,532.2 1295.0,534.8 1296.2,537.2 1297.4,535.4 1298.6,533.8 1299.8,529.0 1300.9,525.5 1302.0,524.5 1303.0,523.9 1304.1,522.3 1305.2,521.7 1306.2,520.8 1307.3,523.5 1308.4,521.4 1309.6,519.3 1311.2,524.4 1312.4,522.4 1313.6,519.9 1314.6,520.1 1315.7,519.8 1316.7,518.2 1317.8,519.8 1318.8,519.4 1319.9,520.1 1321.1,518.4 1322.2,517.2 1323.6,516.0 1324.9,515.4 1326.2,515.7 1327.5,511.8 1328.8,510.6 1330.1,510.5 1331.2,508.4 1332.2,508.3 1333.3,508.1 1334.5,507.2 1335.6,506.5 1336.8,508.7 1338.0,510.8 1339.6,523.6 1341.2,511.8 1342.4,512.4 1343.5,515.2 1344.6,514.2 1345.6,514.1 1346.7,514.4 1347.9,518.2 1349.1,523.7 1350.2,533.0 1351.4,544.3 1352.6,538.3 1353.8,532.6 1355.0,529.2 1356.2,522.9 1357.2,521.2 1358.3,518.8 1359.3,517.7 1360.4,519.5 1361.4,519.9 1362.5,518.3 1363.5,516.4 1364.6,515.0 1365.6,515.8 1366.7,516.5 1367.7,518.0 1368.8,519.9 1370.0,512.5 1371.1,505.0 1372.3,500.9 1373.5,494.7 1374.7,494.0 1375.9,492.7 1377.1,492.2 1378.2,494.1 1379.3,490.5 1380.3,488.6 1381.4,487.6 1382.3,481.9 1383.3,476.4 1384.7,479.1 1386.1,484.2 1387.3,480.1 1388.5,478.1 1389.5,477.2 1390.6,477.1 1391.6,475.9 1392.7,474.5 1393.7,473.3 1394.8,470.7 1395.8,467.9 1396.9,465.1 1397.9,462.2 1399.1,462.1 1400.3,463.0 1401.3,461.8 1402.4,461.4 1403.3,467.1 1404.3,470.1 1405.4,471.7 1406.6,471.8 1407.8,477.8 1409.0,482.0 1410.0,479.4 1411.1,475.5 1412.1,471.9 1413.2,469.6 1414.2,467.7 1415.3,464.1 1416.4,463.6 1417.4,462.1 1418.5,459.7 1419.6,456.7 1420.8,456.2 1422.0,453.9 1423.2,451.4 1424.4,450.0 1425.5,451.1 1426.7,449.1 1427.9,450.4 1429.1,451.9 1430.3,453.0 1431.6,450.0 1432.9,446.4 1434.2,442.4 1435.4,443.0 1436.6,443.1 1437.6,440.1 1438.7,438.9 1439.7,435.8 1440.9,434.9 1442.1,435.2 1443.7,443.7 1444.8,437.2 1446.0,432.0 1447.1,429.5 1448.1,426.3 1449.2,425.2 1450.4,417.6 1451.5,411.9 1452.7,412.8 1453.9,415.2 1455.5,422.6 1456.5,418.3 1457.6,414.2 1458.6,410.8 1459.8,410.4 1461.0,409.5 1462.1,410.8 1463.1,413.1 1464.2,413.6 1465.3,420.5 1466.5,424.0 1467.7,428.3 1468.9,430.3 1470.2,436.7 1471.3,440.4 1472.8,433.5 1474.4,424.4 1475.5,424.8 1476.5,422.9 1477.6,421.3 1478.6,423.5 1479.7,422.1 1480.7,422.2 1481.9,419.6 1483.1,417.6 1484.3,424.7 1485.5,430.8 1487.0,438.6 1488.1,442.9 1489.2,439.2 1490.2,435.6 1491.4,434.4 1492.6,432.9 1493.6,431.1 1494.7,430.8 1495.7,429.5 1496.8,429.4 1497.8,429.8 1498.9,431.8 1500.0,431.3 1501.2,428.0 1502.8,434.3 1503.9,427.6 1504.9,420.9 1506.0,414.2 1507.3,413.0 1508.6,410.7 1509.9,409.1 1511.0,411.5 1512.0,412.5 1513.1,412.8 1514.2,410.1 1515.4,408.1 1516.5,403.5 1517.5,399.8 1518.6,396.2 1519.9,393.8 1521.2,394.2 1522.5,394.1 1523.8,392.0 1525.2,391.2 1526.5,388.4 1527.5,392.7 1528.6,398.0 1529.6,403.3 1531.2,407.5 1532.5,427.6 1533.4,422.7 1534.4,417.9 1535.5,419.0 1536.7,417.4 1538.3,409.4 1539.3,411.9 1540.4,412.4 1541.5,412.8 1543.0,421.8 1544.2,417.0 1545.4,411.6 1547.0,416.6 1548.2,423.7 1549.3,431.6 1550.3,436.2 1551.2,441.5 1552.5,443.4 1553.8,436.2 1554.9,422.8 1555.6,409.3 1557.0,408.3 1558.3,410.5 1559.6,411.1 1561.2,408.2 1562.4,411.3 1563.5,414.3 1564.7,411.4 1565.9,408.6 1567.1,408.7 1568.3,409.1 1569.8,400.5 1570.9,395.5 1571.9,392.8" stroke="#ED7D31"/>
<polyline points="132.6,691.2 133.9,694.1 135.1,695.3 136.4,696.3 137.7,697.0 138.9,698.3 140.2,699.1 141.5,699.4 142.7,698.5 144.0,697.3 145.2,696.4 146.5,695.0 147.8,695.3 149.0,696.7 150.3,698.3 151.5,699.2 152.8,699.3 154.1,700.2 155.3,700.2 156.6,700.5 157.7,702.2 158.9,703.1 160.0,704.1 161.1,704.1 162.3,704.9 163.4,703.5 164.5,702.3 165.6,701.8 166.7,701.0 167.9,699.7 169.2,698.2 170.5,697.3 171.7,695.8 173.0,695.2 174.3,695.0 175.5,694.1 176.8,693.8 178.0,694.1 179.3,694.0 180.6,694.0 181.8,694.4 183.1,693.4 184.4,693.4 185.6,692.8 186.9,693.1 188.1,692.5 189.4,692.4 190.7,692.0 191.9,691.9 193.2,692.5 194.4,691.9 195.7,692.2 197.0,692.1 198.2,691.3 199.5,691.2 200.8,691.0 202.0,690.6 203.3,689.5 204.5,689.0 205.8,688.2 207.1,688.9 208.3,689.7 209.6,688.6 210.9,686.7 212.1,685.1 213.4,685.0 214.6,683.9 215.9,683.8 217.2,684.1 218.4,685.6 219.7,686.2 220.9,686.5 222.2,686.1 223.5,686.1 224.7,686.0 226.0,688.0 227.3,687.6 228.5,688.9 229.8,689.0 231.0,688.3 232.3,686.4 233.6,685.5 234.8,685.5 236.1,685.3 237.4,684.4 238.6,683.7 239.9,684.0 241.1,683.4 242.4,683.6 243.7,683.2 244.9,683.0 246.2,682.2 247.4,681.5 248.7,681.8 250.0,680.8 251.2,681.8 252.5,680.9 253.8,679.7 255.0,679.5 256.3,679.5 257.5,679.3 258.8,679.8 260.1,680.3 261.3,681.0 262.6,680.3 263.8,678.8 265.1,679.5 266.4,679.7 267.6,680.1 268.9,680.3 270.2,681.1 271.4,681.7 272.7,681.3 273.9,681.6 275.2,680.2 276.5,680.4 277.7,679.7 279.0,679.8 280.3,680.7 281.5,680.1 282.8,680.2 284.0,680.2 285.3,681.1 286.6,681.0 287.8,680.7 289.1,682.1 290.3,682.4 291.6,683.0 292.9,684.4 294.1,684.5 295.4,685.3 296.7,684.0 297.9,683.0 299.2,681.6 300.4,681.6 301.7,682.1 303.0,681.0 304.2,681.2 305.5,679.1 306.8,678.9 308.0,678.1 309.3,677.1 310.5,676.0 311.8,674.8 313.1,673.8 314.3,671.7 315.6,671.1 316.8,670.1 318.1,668.0 319.4,667.9 320.6,667.7 321.9,667.4 323.2,668.6 324.4,668.2 325.7,667.2 326.9,665.9 328.2,664.5 329.5,664.2 330.7,664.4 332.0,663.4 333.2,663.6 334.5,662.7 335.8,662.9 337.0,662.2 338.3,662.0 339.6,662.3 340.8,662.4 342.1,662.5 343.3,662.4 344.6,663.4 345.9,664.0 347.1,663.2 348.4,663.6 349.7,662.8 350.9,662.4 352.2,661.9 353.6,661.9 354.9,662.2 356.3,662.8 357.4,663.9 358.6,664.6 359.7,664.5 360.8,664.7 361.9,664.9 363.1,665.4 364.2,665.3 365.5,665.0 366.7,663.7 368.0,663.3 369.2,663.1 370.5,663.0 371.6,662.4 372.8,661.0 373.9,660.6 375.0,659.7 376.1,657.9 377.3,656.6 378.4,655.2 379.5,654.9 380.6,654.3 381.8,653.4 382.9,653.0 384.0,652.3 385.2,651.9 386.3,651.8 387.4,651.9 388.5,650.8 389.7,649.9 390.8,649.4 391.9,648.2 393.0,646.6 394.2,646.2 395.4,645.8 396.7,646.4 397.9,645.7 399.2,646.8 400.5,646.0 401.7,644.8 403.0,643.7 404.3,641.1 405.5,640.1 406.8,637.5 408.0,634.3 409.1,632.8 410.3,631.1 411.5,628.7 412.8,626.9 414.0,626.9 415.3,626.7 416.6,626.5 417.8,626.7 419.1,624.5 420.3,623.6 421.6,624.2 422.9,624.2 424.1,622.5 425.4,619.6 426.8,617.2 428.1,614.8 429.2,616.4 430.3,616.3 431.4,617.4 432.5,618.4 433.6,619.6 434.9,623.3 436.1,625.9 437.4,628.9 438.6,630.9 439.9,633.3 441.2,631.3 442.4,629.1 443.7,627.2 445.0,624.1 446.2,621.5 447.5,619.9 448.7,619.8 450.0,619.5 451.3,619.0 452.5,619.1 453.8,617.0 455.0,616.6 456.3,616.1 457.6,615.4 458.8,615.2 459.9,615.1 461.0,613.2 462.1,611.2 463.2,609.7 464.4,608.8 465.7,611.9 467.0,614.3 468.3,617.7 469.3,616.7 470.4,616.8 471.5,616.2 472.6,622.5 473.8,628.6 475.1,625.5 476.4,621.7 477.8,617.9 479.0,618.4 480.3,616.9 481.5,616.8 482.8,616.0 484.1,616.1 485.3,616.6 486.6,616.1 487.9,615.5 489.1,615.2 490.4,613.8 491.6,615.6 492.7,617.9 493.9,619.8 495.1,621.4 496.4,620.2 497.6,619.4 498.9,619.5 500.2,618.6 501.4,618.0 502.6,621.3 503.8,625.8 505.0,630.7 506.2,635.6 507.2,635.0 508.3,635.5 509.3,637.2 510.5,634.1 511.7,631.4 512.9,628.7 514.0,627.2 515.3,625.8 516.6,624.9 517.8,622.3 519.1,622.1 520.3,620.6 521.5,618.9 522.7,618.9 523.9,617.6 525.1,615.8 526.3,617.6 527.4,620.3 528.8,617.3 530.1,615.4 531.4,614.3 532.5,613.7 533.6,612.0 534.7,613.2 535.8,611.5 536.9,610.6 538.2,612.3 539.5,614.2 540.9,615.3 542.1,615.2 543.4,615.9 544.6,615.0 545.9,613.6 547.2,613.0 548.3,611.6 549.5,610.5 550.7,609.7 551.9,609.0 552.9,606.7 554.0,605.2 555.0,602.7 556.2,602.7 557.4,604.3 558.6,604.8 559.8,606.1 560.9,605.9 562.0,606.3 563.1,606.4 564.2,605.4 565.3,604.6 566.3,604.9 567.4,607.3 568.4,603.5 569.5,602.5 570.6,608.2 571.6,603.8 572.7,598.9 573.7,597.8 574.8,596.6 575.8,595.5 576.9,595.9 578.0,596.2 579.0,595.6 580.3,592.6 581.6,589.9 583.4,584.3 584.4,586.4 585.3,589.9 586.4,591.1 587.5,593.1 588.5,595.9 589.6,589.7 590.6,585.9 591.7,583.0 592.7,581.8 593.8,580.3 594.8,578.2 595.9,577.6 597.0,576.8 598.0,578.1 599.1,579.2 600.1,578.6 601.2,576.7 602.2,573.8 603.3,576.2 604.4,579.9 605.4,580.7 606.5,581.5 608.0,577.7 609.4,580.1 610.7,584.3 611.7,582.1 612.8,580.5 613.9,577.4 614.9,577.1 616.0,577.5 617.0,576.5 618.1,575.4 619.1,574.4 620.2,573.7 621.2,578.4 622.3,581.7 623.4,589.7 624.7,586.9 626.0,583.5 627.6,583.8 628.6,586.7 629.7,591.0 630.7,588.9 631.8,587.1 633.0,591.0 634.3,594.6 635.5,598.6 636.8,595.4 638.1,592.7 639.4,588.3 640.6,583.8 641.8,581.0 643.2,580.3 644.5,581.5 645.5,582.3 646.6,583.3 647.6,585.3 649.0,581.2 650.3,580.0 651.5,583.5 652.7,589.2 654.5,581.1 655.8,579.1 657.1,579.9 658.2,576.3 659.3,575.2 660.3,575.2 661.5,574.8 662.8,574.1 664.0,575.4 665.2,574.1 666.5,572.6 667.7,572.6 668.8,573.1 669.8,573.9 670.9,574.6 672.2,575.1 673.5,575.4 674.6,577.2 675.6,578.4 676.7,578.6 677.9,576.6 679.1,575.3 680.4,572.8 681.7,572.1 683.0,570.9 684.1,571.5 685.1,570.3 686.2,571.8 687.2,572.0 688.3,572.6 689.4,572.9 690.7,572.8 692.0,571.7 693.3,575.5 694.6,579.8 696.2,580.5 697.3,582.6 698.3,585.8 699.6,586.3 700.8,586.5 702.0,585.5 703.3,589.2 704.7,590.4 705.7,586.1 706.8,582.6 707.8,583.2 708.9,582.6 709.9,580.5 711.0,582.0 712.1,583.6 713.1,583.6 714.2,584.0 715.2,584.2 716.3,583.3 717.3,582.7 718.7,581.0 720.0,578.5 721.3,577.5 722.6,575.2 723.9,571.9 725.1,571.9 726.3,568.5 727.6,569.5 729.0,568.4 730.2,568.7 731.4,566.9 732.7,563.8 733.9,562.9 735.1,560.1 736.3,559.2 737.7,562.6 739.0,564.7 740.0,564.1 741.1,564.6 742.2,564.7 743.2,564.1 744.3,563.4 745.3,563.0 746.6,561.0 747.8,561.0 749.0,561.4 750.1,561.5 751.1,563.3 752.2,563.6 753.5,565.6 754.8,568.2 756.4,561.9 757.6,563.6 758.7,565.8 759.9,568.5 761.1,568.7 762.2,568.3 763.4,566.1 764.6,563.4 765.8,564.8 767.0,564.2 768.2,563.6 769.3,562.1 770.5,562.9 771.7,562.7 772.9,565.0 774.1,564.9 775.3,564.6 776.4,566.0 777.6,567.2 778.8,568.5 779.9,570.8 780.9,571.5 782.0,571.9 783.1,570.9 784.3,570.4 785.5,569.6 786.7,569.3 788.0,573.5 789.3,575.4 790.6,576.0 791.9,579.9 793.3,582.3 794.6,583.7 795.9,581.5 797.2,578.4 798.5,574.2 799.8,575.1 801.1,574.7 802.5,573.0 803.5,573.1 804.6,572.4 805.6,571.1 807.2,573.0 808.2,571.4 809.3,568.4 810.3,565.8 811.6,568.0 812.9,568.4 814.1,567.0 815.4,566.8 816.7,566.7 818.0,567.2 819.3,567.6 820.6,567.7 821.9,567.0 823.2,564.5 824.5,563.4 825.9,564.3 827.2,565.0 828.5,565.4 829.8,563.4 831.1,561.7 832.4,561.7 833.5,559.0 834.5,556.0 835.6,556.9 836.7,558.3 837.8,560.9 838.9,564.3 840.0,566.8 841.2,564.5 842.3,561.5 843.5,559.8 844.7,556.8 845.8,554.6 847.0,552.2 848.2,549.7 849.3,547.6 850.4,546.1 851.5,545.9 852.6,546.5 853.7,545.6 855.0,546.1 856.4,546.5 857.7,546.8 858.8,546.8 860.0,544.7 861.2,544.2 862.4,543.3 863.6,542.1 864.8,540.6 865.9,539.2 867.1,538.7 868.3,537.7 869.5,540.3 870.7,541.6 871.9,540.8 873.0,543.2 874.2,543.7 875.4,543.1 876.6,545.4 877.8,545.2 879.0,547.1 880.1,547.5 881.3,547.7 882.4,548.1 883.4,548.4 884.5,549.6 885.8,547.4 887.1,545.9 888.4,545.0 889.5,545.3 890.5,546.4 891.6,549.2 892.9,546.4 894.2,542.8 895.5,540.2 896.8,538.6 898.1,538.1 899.5,536.8 900.6,537.2 901.7,538.3 902.8,539.6 903.9,541.2 905.0,541.2 906.2,541.3 907.4,542.4 908.5,543.7 909.7,544.7 910.9,543.2 912.1,541.6 913.3,542.9 914.4,545.1 915.6,543.5 916.7,539.5 917.8,537.5 918.9,535.1 920.0,532.5 921.3,535.0 922.6,537.0 923.9,538.6 925.1,538.4 926.3,538.5 927.5,538.5 928.6,537.6 929.8,541.4 931.0,543.4 932.2,546.2 933.4,549.6 934.6,541.9 935.9,538.3 937.1,532.5 938.3,530.6 939.5,528.6 940.6,528.3 941.8,528.2 943.1,526.0 944.5,524.4 945.8,523.2 947.0,521.9 948.1,521.9 949.3,521.3 950.5,522.1 951.6,520.8 952.6,520.0 953.7,519.2 954.7,520.3 955.8,520.4 956.8,519.7 957.9,516.7 958.9,512.7 960.0,509.5 961.3,512.1 962.6,514.3 963.9,516.0 965.2,514.4 966.5,513.0 967.9,513.9 969.2,515.2 970.5,516.3 971.8,516.4 972.8,518.4 973.9,521.1 975.0,523.5 976.3,520.6 977.6,517.7 978.9,514.8 979.9,514.9 981.0,517.3 982.1,519.1 983.2,517.2 984.4,516.2 985.7,520.2 987.0,524.4 988.4,527.8 989.5,525.5 990.7,521.4 991.9,516.8 993.1,513.9 994.1,514.5 995.2,515.2 996.2,515.4 997.4,517.5 998.6,520.2 999.9,519.2 1001.2,520.0 1002.6,518.9 1003.7,520.6 1004.9,521.0 1006.0,523.8 1007.0,527.5 1008.1,531.2 1009.4,543.2 1010.8,555.4 1012.0,548.9 1013.2,542.1 1014.4,537.0 1015.6,543.2 1016.8,552.4 1017.9,562.5 1019.1,574.2 1020.3,581.3 1021.5,590.4 1022.7,612.5 1024.0,634.4 1025.6,617.3 1027.1,602.5 1028.6,590.5 1029.8,581.9 1030.9,574.0 1032.1,571.7 1033.3,567.8 1034.9,581.1 1036.1,581.8 1037.3,581.3 1038.4,586.1 1039.6,589.8 1040.8,584.3 1042.0,578.1 1043.0,577.4 1044.1,576.0 1045.1,573.5 1046.5,570.0 1047.8,567.3 1049.1,562.3 1050.4,561.0 1051.7,558.6 1053.0,556.2 1054.1,560.1 1055.1,565.2 1056.2,566.6 1057.4,570.2 1058.5,572.7 1059.6,567.1 1060.7,561.6 1061.7,555.3 1062.9,555.8 1064.1,556.0 1065.6,563.9 1067.0,561.5 1068.3,558.7 1069.6,556.0 1070.6,561.4 1071.7,567.8 1072.7,573.5 1073.9,568.4 1075.1,563.4 1076.2,559.9 1077.2,557.0 1078.3,554.1 1079.6,548.7 1080.9,543.0 1082.2,538.4 1083.5,533.5 1084.8,528.5 1086.2,524.8 1087.2,524.6 1088.3,525.6 1089.3,525.7 1090.4,523.7 1091.4,522.4 1092.5,521.1 1093.5,517.9 1094.6,515.4 1095.6,514.0 1096.9,516.2 1098.2,519.7 1099.6,521.3 1100.7,524.3 1101.9,527.1 1103.0,528.1 1104.0,527.9 1105.1,530.6 1106.3,529.5 1107.4,528.0 1108.5,532.7 1109.5,537.2 1110.6,542.1 1111.6,552.2 1112.6,562.3 1114.0,553.3 1115.3,545.4 1116.4,546.6 1117.4,548.5 1118.5,549.6 1119.5,547.3 1120.6,545.1 1121.6,544.6 1123.0,550.5 1124.3,556.6 1125.6,562.4 1126.6,557.4 1127.7,551.9 1128.7,546.8 1130.1,546.8 1131.4,546.9 1132.7,545.4 1133.7,547.5 1134.8,552.0 1135.8,555.9 1136.9,558.4 1137.9,559.0 1139.0,559.4 1140.2,556.6 1141.4,552.1 1142.7,555.8 1144.0,557.7 1145.3,558.4 1146.4,558.7 1147.4,557.2 1148.5,556.3 1149.5,558.0 1150.6,560.0 1151.6,562.7 1152.7,559.5 1153.7,556.9 1154.8,553.8 1155.8,551.2 1156.9,545.9 1157.9,543.8 1159.0,545.7 1160.0,547.2 1161.1,550.6 1162.4,548.3 1163.7,546.9 1165.0,544.2 1166.3,544.5 1167.6,543.5 1169.0,542.0 1170.1,543.4 1171.3,544.7 1172.5,546.6 1173.7,548.1 1175.0,553.1 1176.3,554.3 1177.6,557.5 1178.7,554.5 1179.7,551.3 1180.8,548.7 1181.8,546.8 1182.9,543.7 1183.9,542.0 1185.0,542.7 1186.0,542.0 1187.1,544.0 1188.1,542.1 1189.2,541.2 1190.3,541.7 1191.6,543.8 1192.9,545.8 1194.2,548.9 1195.4,552.3 1196.6,554.1 1198.1,546.2 1199.3,545.8 1200.4,543.7 1201.6,543.7 1203.2,534.0 1204.3,519.9 1205.5,505.0 1206.5,489.7 1207.6,474.9 1208.7,502.1 1209.7,507.7 1210.7,513.7 1212.1,512.4 1213.4,509.5 1214.6,508.9 1215.8,506.7 1216.8,503.1 1217.9,499.0 1218.9,494.5 1220.1,494.1 1221.3,495.0 1222.5,488.1 1223.7,483.8 1224.8,487.5 1226.0,491.5 1227.2,494.4 1228.4,495.7 1229.6,491.5 1230.8,484.4 1231.8,481.9 1232.9,477.8 1233.9,473.7 1235.0,473.4 1236.0,473.6 1237.1,470.2 1238.6,477.8 1239.6,473.7 1240.5,466.6 1241.7,463.9 1242.8,460.3 1244.4,458.7 1245.4,462.7 1246.5,465.8 1247.8,449.9 1249.1,434.8 1250.2,429.8 1251.3,424.4 1252.3,418.2 1253.5,413.0 1254.7,408.0 1255.5,409.6 1256.6,403.6 1257.8,395.7 1259.0,394.1 1260.2,390.9 1261.4,389.7 1262.6,383.3 1263.7,385.2 1264.9,388.3 1266.5,408.7 1267.7,405.9 1268.9,404.6 1270.4,429.3 1271.6,425.9 1272.8,424.7 1273.6,431.1 1274.8,427.4 1276.0,422.6 1277.1,428.6 1278.3,432.2 1279.9,437.9 1280.7,451.3 1281.9,442.1 1283.1,432.3 1284.6,436.0 1285.8,442.2 1287.0,448.8 1288.6,432.9 1289.6,431.7 1290.7,431.3 1291.7,431.8 1292.8,427.6 1293.8,422.3 1294.7,426.4 1295.7,429.6 1296.9,426.0 1298.0,424.8 1299.2,422.3 1300.4,421.8 1301.6,415.9 1302.8,412.2 1304.0,409.5 1305.1,408.0 1306.3,407.4 1307.5,406.9 1308.0,412.5 1308.9,408.6 1309.9,405.4 1311.5,410.6 1312.6,405.6 1313.8,400.6 1315.0,399.1 1316.2,397.0 1317.8,398.8 1319.3,394.1 1320.9,402.4 1322.5,394.2 1323.5,394.2 1324.6,391.7 1325.6,390.7 1326.8,388.0 1328.0,383.4 1329.1,382.0 1330.1,379.8 1331.2,380.5 1332.0,385.2 1333.1,378.0 1334.3,368.2 1335.9,370.4 1336.8,370.4 1337.8,368.0 1339.5,389.4 1340.5,380.9 1341.4,369.0 1342.6,371.7 1343.8,373.2 1344.8,382.2 1345.8,388.4 1347.2,381.1 1348.5,372.1 1350.1,419.1 1350.9,432.6 1352.1,416.4 1353.2,402.3 1354.3,396.8 1355.4,389.6 1356.4,385.4 1358.0,388.4 1359.6,382.7 1360.7,379.8 1361.9,377.3 1363.1,372.5 1364.3,368.4 1365.3,370.4 1366.4,372.0 1367.4,374.2 1368.5,369.2 1369.5,363.5 1370.6,356.1 1371.7,350.0 1372.8,341.1 1373.9,335.9 1375.0,333.1 1376.0,330.1 1377.1,329.4 1378.2,320.6 1379.4,312.6 1380.6,309.7 1381.8,310.7 1382.7,304.6 1383.7,299.1 1385.1,310.2 1386.5,320.9 1387.6,316.2 1388.6,313.5 1389.7,313.3 1391.3,300.4 1392.1,291.7 1393.6,294.0 1395.2,288.5 1396.8,286.3 1397.7,282.6 1398.7,278.5 1399.7,278.0 1400.7,278.3 1401.7,275.2 1402.6,274.2 1403.6,277.6 1404.7,280.5 1406.2,286.2 1407.4,295.1 1408.6,304.5 1409.9,306.5 1410.8,296.0 1411.8,284.4 1412.8,283.5 1413.9,283.0 1414.9,283.8 1416.1,280.2 1417.3,277.5 1418.9,268.2 1420.1,266.5 1421.2,273.5 1422.8,263.4 1424.0,262.7 1425.2,258.4 1426.8,260.7 1428.3,257.6 1429.9,263.4 1431.0,259.1 1432.0,255.4 1433.1,254.2 1434.6,246.2 1435.6,244.9 1436.5,243.9 1437.6,232.2 1438.6,220.1 1439.6,218.6 1440.7,217.6 1441.7,216.6 1442.7,224.2 1443.6,230.8 1445.4,215.2 1446.3,209.0 1447.3,201.5 1448.3,201.3 1449.2,199.2 1450.2,194.1 1451.3,186.0 1452.4,185.2 1453.6,183.2 1455.2,200.1 1456.4,201.8 1457.6,199.8 1458.7,191.0 1459.9,190.0 1461.2,184.7 1462.1,190.2 1463.1,194.3 1464.7,186.5 1466.2,201.0 1467.2,206.3 1468.1,212.6 1469.3,214.2 1470.5,218.8 1471.7,215.3 1472.9,212.4 1474.1,205.2 1475.4,191.3 1477.0,194.5 1478.3,189.1 1479.7,182.0 1481.2,178.0 1482.8,170.7 1483.8,179.2 1484.9,185.1 1485.8,179.8 1486.8,174.8 1488.3,172.4 1489.6,162.6 1491.2,170.9 1492.3,169.7 1493.5,169.4 1494.6,167.7 1495.6,164.2 1496.5,159.0 1497.6,159.5 1498.6,162.8 1499.6,159.6 1500.6,156.6 1501.6,161.5 1502.5,166.6 1503.7,153.4 1504.9,143.4 1506.0,137.5 1507.4,133.4 1508.8,129.7 1510.1,131.9 1511.5,133.7 1512.8,141.2 1513.8,132.7 1514.8,124.3 1515.8,123.5 1516.7,125.2 1518.3,118.7 1519.5,113.2 1520.7,112.0 1522.2,102.2 1523.4,102.2 1524.6,102.9 1526.2,95.2 1527.8,87.7 1529.3,109.0 1530.4,110.1 1531.4,112.5 1532.5,144.3 1534.1,122.1 1535.3,130.6 1536.7,127.7 1538.0,117.8 1539.6,116.2 1541.2,121.1 1542.7,135.4 1543.9,129.5 1545.1,121.8 1546.3,128.0 1547.5,131.9 1548.7,145.4 1550.2,150.2 1551.7,141.0 1553.5,151.6 1554.4,137.6 1555.4,123.1 1556.5,126.5 1557.7,122.5 1558.9,115.2 1560.1,105.4 1561.3,107.3 1562.5,112.7 1563.5,115.3 1564.5,118.2 1565.5,111.7 1566.4,107.4 1567.6,106.5 1568.8,109.5 1570.3,103.7 1571.9,94.7" stroke="#7030A0"/>
<polyline points="132.6,691.2 133.9,691.7 135.1,691.6 136.4,691.8 137.7,691.8 138.9,692.2 140.2,692.0 141.5,691.8 142.7,692.1 144.0,691.4 145.2,691.4 146.5,692.1 147.8,692.3 149.0,692.8 150.3,693.4 151.5,693.7 152.8,693.4 154.1,693.4 155.3,693.3 156.6,694.5 157.9,695.4 159.1,696.1 160.4,695.9 161.6,696.3 162.9,695.0 164.2,694.3 165.4,694.3 166.7,693.6 167.9,694.0 169.2,693.3 170.5,692.9 171.7,692.9 173.0,692.8 174.3,692.2 175.5,692.4 176.8,693.0 178.0,691.9 179.3,691.4 180.6,690.5 181.8,689.4 183.1,689.6 184.4,689.6 185.6,689.5 186.9,689.5 188.1,688.3 189.4,688.3 190.7,687.9 191.9,687.3 193.2,687.5 194.4,687.7 195.7,687.8 197.0,688.9 198.2,689.0 199.5,688.2 200.8,688.7 202.0,689.4 203.3,689.3 204.5,688.8 205.8,689.7 207.1,689.1 208.3,689.3 209.6,688.5 210.9,688.3 212.1,688.0 213.4,689.0 214.6,689.9 215.9,689.9 217.2,689.3 218.4,689.6 219.7,690.0 220.9,689.5 222.2,689.4 223.5,690.2 224.7,689.8 226.0,689.4 227.3,689.2 228.5,688.5 229.8,687.2 231.0,687.8 232.3,687.6 233.6,687.9 234.8,687.9 236.1,688.5 237.4,688.1 238.6,688.9 239.9,688.8 241.1,689.0 242.4,689.2 243.7,689.0 244.9,689.6 246.2,688.7 247.4,688.6 248.7,689.6 250.0,689.8 251.2,689.6 252.5,690.1 253.8,689.7 255.0,689.5 256.3,689.3 257.5,690.1 258.8,690.1 260.1,690.8 261.3,690.7 262.6,691.1 263.8,690.8 265.1,689.8 266.4,689.8 267.6,690.2 268.9,690.5 270.2,690.2 271.4,689.8 272.7,689.8 273.9,689.2 275.2,688.9 276.5,688.9 277.7,689.1 279.0,689.0 280.3,689.5 281.5,690.3 282.8,691.3 284.0,692.1 285.3,692.0 286.6,692.4 287.8,692.2 289.1,692.1 290.3,693.0 291.6,693.4 292.9,694.2 294.1,694.3 295.4,695.5 296.7,695.1 297.9,694.4 299.2,694.2 300.4,694.4 301.7,694.1 303.0,693.8 304.2,693.7 305.5,693.9 306.8,692.8 308.0,692.3 309.3,691.9 310.5,692.4 311.8,692.1 313.1,692.0 314.3,691.0 315.6,690.5 316.8,690.8 318.1,690.5 319.4,691.1 320.6,690.1 321.9,689.4 323.2,687.8 324.4,687.3 325.7,686.5 326.9,685.9 328.2,685.5 329.5,684.4 330.7,682.9 332.0,682.2 333.2,681.8 334.5,683.8 335.8,685.8 337.0,687.5 338.3,688.4 339.6,688.5 340.8,688.1 342.1,687.0 343.3,687.1 344.6,687.1 345.9,686.2 347.1,686.0 348.4,685.6 349.7,686.6 350.9,687.6 352.2,686.5 353.4,687.4 354.7,688.3 355.9,688.4 357.1,687.9 358.3,688.6 359.5,689.3 360.7,690.3 362.0,690.8 363.2,691.7 364.5,692.8 365.8,694.1 366.9,695.7 368.0,696.1 369.2,696.2 370.3,695.6 371.4,696.8 372.5,697.4 373.7,698.0 374.8,696.5 376.0,696.0 377.2,694.3 378.4,693.9 379.5,694.0 380.6,694.4 381.8,695.3 382.9,695.3 384.0,695.5 385.2,696.0 386.3,695.6 387.5,695.4 388.8,695.5 390.1,695.9 391.3,695.5 392.6,695.8 393.7,695.3 394.8,693.9 396.0,692.7 397.1,691.7 398.2,691.4 399.3,691.1 400.5,690.9 401.7,691.1 402.8,690.5 404.0,690.8 405.2,690.8 406.4,690.7 407.6,690.5 408.8,689.5 409.9,689.4 411.1,689.0 412.2,688.6 413.3,688.6 414.4,688.9 415.6,689.0 416.7,689.0 417.8,689.0 418.9,687.9 420.1,686.7 421.2,685.2 422.3,684.6 423.5,684.4 424.6,683.2 425.7,682.0 427.0,682.7 428.2,683.5 429.5,683.3 430.8,683.2 432.0,683.2 433.3,685.1 434.5,685.2 435.8,685.8 437.1,686.1 438.3,685.4 439.5,684.4 440.6,683.4 441.7,683.3 442.8,682.9 444.0,683.2 445.1,682.4 446.2,681.6 447.4,682.4 448.6,682.9 449.8,684.5 450.9,684.3 452.1,684.7 453.3,684.3 454.5,682.9 455.7,681.9 456.9,683.0 458.0,683.9 459.2,684.8 460.4,685.5 461.7,685.3 462.9,685.8 464.2,685.3 465.5,685.4 466.7,685.2 467.9,687.2 469.1,688.8 470.3,690.5 471.5,692.0 472.6,693.8 473.8,693.6 474.9,693.0 476.0,690.9 477.1,688.1 478.2,686.1 479.3,684.3 480.6,683.2 481.9,681.9 483.1,681.0 484.4,680.7 485.6,680.5 486.8,678.4 488.0,676.9 489.2,675.5 490.4,674.2 491.6,674.9 492.7,675.7 493.9,677.0 495.1,677.3 496.3,676.9 497.5,677.1 498.7,677.1 499.8,677.3 501.1,679.0 502.4,681.3 503.6,684.0 504.9,685.9 506.2,687.8 507.4,687.3 508.7,686.5 509.9,685.0 511.2,684.8 512.5,684.4 513.7,684.0 515.0,684.5 516.2,684.5 517.5,684.3 518.8,684.1 520.0,682.5 521.3,682.5 522.6,682.3 523.8,682.3 525.1,682.2 526.3,681.6 527.6,680.8 528.9,680.2 530.1,680.1 531.4,680.2 532.5,679.9 533.6,679.1 534.8,678.2 535.9,678.2 537.0,677.3 538.1,678.2 539.3,678.0 540.5,678.1 541.8,678.4 543.1,678.5 544.3,678.2 545.6,679.1 546.8,679.5 548.1,680.7 549.4,682.2 550.6,681.7 551.9,682.4 553.2,682.1 554.4,682.1 555.7,681.4 556.9,681.4 558.2,681.0 559.4,681.2 560.6,681.3 561.8,680.6 562.9,680.8 564.1,679.8 565.3,680.1 566.5,678.2 567.7,678.2 568.9,678.2 570.2,678.9 571.5,679.9 572.7,680.7 574.0,680.9 575.1,681.7 576.2,680.8 577.4,680.4 578.5,681.2 579.6,681.2 580.7,680.1 581.9,680.6 583.0,680.7 584.2,682.4 585.4,683.7 586.6,683.9 587.9,684.3 589.1,683.4 590.4,683.4 591.6,683.2 592.9,682.5 594.2,681.8 595.4,681.6 596.7,680.5 597.9,680.4 599.2,680.7 600.5,681.1 601.7,681.2 603.0,680.7 604.3,681.7 605.5,682.8 606.8,682.3 608.0,683.2 609.3,683.3 610.6,683.0 611.8,682.3 613.1,680.5 614.4,680.6 615.6,680.8 616.9,680.1 618.1,679.5 619.4,679.6 620.7,679.3 621.9,680.0 623.2,680.9 624.4,681.7 625.7,682.1 627.0,682.2 628.2,682.6 629.5,683.2 630.8,682.6 631.9,683.0 633.1,683.4 634.3,683.8 635.5,685.0 636.8,684.2 638.0,684.1 639.3,683.8 640.5,683.4 641.8,682.9 642.9,683.7 644.1,684.7 645.2,685.5 646.3,686.0 647.5,686.5 648.7,686.6 649.9,687.7 651.0,687.9 652.2,688.2 653.4,688.0 654.5,687.9 655.6,686.9 656.7,685.7 657.8,685.1 658.9,684.5 660.1,684.4 661.2,683.7 662.3,683.3 663.4,682.8 664.6,682.5 665.7,681.7 666.8,681.7 667.9,680.8 669.1,680.4 670.2,679.8 671.3,680.0 672.4,679.7 673.6,679.6 674.7,679.1 676.0,678.2 677.2,677.1 678.5,676.5 679.7,675.9 681.0,675.8 682.2,675.5 683.4,675.6 684.6,675.0 685.7,674.3 686.9,674.1 688.0,674.7 689.1,675.3 690.2,676.6 691.4,676.8 692.5,677.7 693.6,677.6 694.8,678.6 696.0,679.9 697.2,681.1 698.4,681.4 699.6,681.9 700.9,682.0 702.1,681.4 703.4,681.2 704.7,680.9 705.8,681.8 706.9,681.4 708.0,681.6 709.2,681.4 710.3,680.9 711.4,681.0 712.6,680.9 713.8,680.4 715.1,680.4 716.3,679.7 717.6,679.0 718.9,679.0 720.1,678.1 721.4,676.9 722.6,675.6 723.9,675.1 725.2,675.0 726.4,674.5 727.7,674.6 729.0,673.8 730.2,674.1 731.5,674.3 732.7,674.4 734.0,674.1 735.3,674.3 736.5,674.4 737.8,674.6 739.1,674.2 740.3,673.6 741.6,672.5 742.8,672.3 744.1,671.6 745.4,671.2 746.6,670.9 747.9,670.4 749.1,669.7 750.4,668.7 751.7,670.1 752.9,669.7 754.2,670.6 755.5,671.1 756.7,672.2 758.0,671.8 759.2,671.5 760.5,671.4 761.8,671.2 763.0,670.5 764.1,670.4 765.2,670.0 766.3,669.8 767.4,668.9 768.5,668.2 769.7,668.9 770.9,669.3 772.1,670.3 773.3,671.3 774.4,671.8 775.5,671.3 776.6,671.2 777.7,671.5 778.8,670.7 780.0,670.5 781.2,670.1 782.4,669.2 783.5,668.7 784.7,668.3 785.9,667.5 787.1,666.6 788.3,665.5 789.4,665.7 790.5,666.7 791.6,666.4 792.7,666.4 793.8,667.3 795.0,667.8 796.2,668.1 797.3,667.2 798.5,667.0 799.7,666.2 800.9,665.9 802.1,666.0 803.4,666.2 804.7,667.0 805.9,667.1 807.2,666.7 808.5,667.3 809.7,667.8 811.0,668.0 812.2,668.5 813.5,669.1 814.8,670.7 816.0,670.2 817.3,670.5 818.5,670.9 819.8,672.7 820.9,673.4 822.1,672.9 823.2,672.4 824.3,672.4 825.4,670.7 826.6,670.4 827.7,669.7 829.0,669.6 830.2,670.0 831.5,670.4 832.7,671.2 834.0,671.7 835.2,672.9 836.4,673.6 837.6,674.6 838.8,676.5 840.0,676.3 841.3,676.0 842.5,674.3 843.8,673.8 845.0,672.5 846.3,672.5 847.6,672.5 848.8,672.6 850.1,672.5 851.4,671.0 852.6,671.5 853.9,671.9 855.1,671.1 856.4,670.9 857.7,671.3 858.9,671.1 860.2,671.4 861.5,671.5 862.7,670.7 864.0,669.4 865.2,668.8 866.5,668.3 867.8,668.1 869.0,667.7 870.3,667.3 871.5,668.0 872.8,667.7 874.1,667.8 875.3,667.4 876.6,668.8 877.9,668.2 879.1,667.6 880.4,668.3 881.6,668.4 882.9,668.9 884.1,669.4 885.3,671.0 886.5,671.7 887.6,671.6 888.8,671.7 890.0,671.2 891.2,671.3 892.4,671.1 893.5,671.5 894.7,670.9 895.9,671.4 897.1,671.6 898.3,668.3 899.5,665.5 900.6,664.8 901.7,665.1 902.8,665.3 903.9,664.8 905.0,664.6 906.2,664.1 907.4,662.6 908.5,662.7 909.7,662.4 910.8,663.1 912.0,663.3 913.1,662.6 914.2,662.3 915.3,662.0 916.5,661.5 917.6,661.7 918.9,662.7 920.1,662.6 921.4,663.2 922.6,664.7 923.9,665.2 925.1,664.8 926.3,664.2 927.5,663.7 928.6,663.6 929.8,665.6 931.0,667.5 932.2,669.0 933.4,670.8 934.6,668.9 935.9,667.6 937.1,667.1 938.3,667.5 939.5,668.2 940.6,669.3 941.8,669.7 942.9,669.5 944.0,668.0 945.1,668.6 946.2,668.5 947.4,667.9 948.5,667.8 949.7,667.4 950.9,667.1 952.1,666.6 953.3,667.2 954.4,667.6 955.6,667.7 956.8,668.0 958.1,667.8 959.3,667.3 960.6,666.3 961.9,666.1 963.1,665.8 964.2,666.4 965.4,666.8 966.5,666.4 967.6,665.9 968.8,666.6 969.9,666.3 971.0,666.3 972.3,666.5 973.5,666.6 974.8,666.6 976.1,666.6 977.3,666.6 978.6,667.6 979.8,668.2 981.1,667.7 982.4,668.0 983.6,668.9 984.7,668.0 985.8,667.0 986.9,667.7 988.0,668.7 989.1,668.5 990.3,668.2 991.4,667.8 992.5,666.4 993.6,666.5 994.7,665.2 995.9,664.7 997.2,664.5 998.5,665.1 999.7,665.0 1001.0,664.7 1002.2,664.1 1003.3,664.1 1004.5,664.0 1005.7,664.0 1007.0,667.3 1008.3,670.1 1009.7,672.1 1010.8,667.9 1012.0,663.6 1013.1,662.1 1014.1,660.0 1015.2,658.2 1016.2,660.8 1017.3,662.2 1018.3,662.8 1019.6,664.6 1021.0,666.8 1022.3,668.0 1023.5,665.0 1024.6,660.8 1025.7,659.0 1026.7,657.4 1027.8,655.3 1029.0,655.7 1030.2,656.0 1031.3,655.6 1032.5,655.7 1033.7,655.0 1034.9,655.7 1036.1,655.1 1037.3,654.3 1038.4,653.7 1039.6,653.7 1040.8,654.1 1042.0,653.6 1043.2,653.1 1044.4,652.3 1045.5,651.3 1046.7,650.3 1047.8,649.9 1048.9,649.5 1050.0,649.8 1051.1,648.8 1052.2,649.6 1053.6,650.7 1054.9,651.7 1056.2,652.5 1057.2,653.6 1058.3,653.0 1059.3,653.6 1060.7,651.7 1062.0,649.2 1063.3,647.0 1064.4,646.9 1065.5,647.0 1066.6,646.7 1067.7,646.4 1068.8,646.3 1070.1,647.5 1071.4,649.2 1072.7,651.4 1073.9,648.6 1075.1,647.0 1076.4,648.2 1077.7,648.8 1079.1,649.1 1080.4,648.3 1081.7,646.3 1083.0,644.7 1084.2,643.1 1085.4,642.1 1086.5,642.1 1087.7,642.4 1089.0,641.1 1090.4,639.8 1091.7,639.3 1092.8,640.0 1093.9,640.6 1095.0,640.0 1096.1,640.5 1097.2,640.9 1098.5,640.4 1099.7,640.2 1101.0,640.0 1102.2,641.0 1103.5,641.3 1104.7,641.8 1105.9,642.0 1107.1,642.1 1108.2,641.8 1109.4,642.8 1110.6,644.7 1111.8,645.0 1113.0,645.7 1114.2,645.3 1115.5,645.2 1116.8,645.0 1118.0,643.9 1119.3,643.4 1120.5,644.0 1121.8,644.2 1123.1,645.3 1124.3,645.9 1125.6,647.3 1126.9,646.2 1128.2,644.5 1129.5,643.3 1130.8,642.3 1132.2,641.3 1133.5,640.7 1134.7,641.7 1136.0,642.1 1137.3,641.9 1138.5,642.5 1139.8,644.0 1141.0,644.4 1142.1,643.0 1143.3,642.3 1144.5,641.7 1145.8,641.4 1147.1,642.4 1148.5,643.2 1149.5,644.3 1150.6,646.5 1151.6,646.8 1152.9,646.0 1154.2,644.9 1155.6,642.8 1156.6,642.1 1157.7,642.3 1158.7,641.4 1160.0,642.1 1161.2,641.6 1162.5,642.4 1163.8,642.8 1165.0,643.3 1166.3,644.4 1167.5,644.3 1168.8,644.0 1170.1,643.6 1171.3,642.8 1172.5,643.9 1173.7,644.6 1174.9,645.6 1176.1,646.2 1177.2,647.2 1178.4,647.3 1179.6,648.2 1180.8,648.7 1182.0,649.2 1183.2,649.8 1184.3,650.5 1185.5,650.8 1186.7,652.0 1187.9,652.6 1189.1,653.2 1190.3,654.1 1191.4,656.0 1192.6,655.7 1193.8,655.1 1195.0,656.6 1196.2,655.6 1197.4,654.9 1198.5,653.7 1199.7,654.1 1200.9,649.5 1202.1,645.4 1203.2,641.8 1204.3,634.3 1205.5,625.2 1206.5,623.1 1207.6,618.6 1208.7,630.5 1209.7,630.7 1210.8,631.1 1211.8,630.5 1213.0,629.2 1214.2,627.2 1215.5,626.0 1216.8,625.3 1218.1,624.2 1219.2,624.2 1220.3,624.1 1221.5,622.9 1222.6,623.3 1223.7,623.2 1224.8,625.6 1226.0,628.8 1227.3,628.5 1228.7,626.9 1230.0,626.3 1231.0,625.2 1232.1,623.8 1233.1,623.0 1234.4,622.5 1235.8,622.9 1237.1,623.7 1238.1,624.5 1239.2,625.9 1240.2,626.8 1241.3,626.2 1242.3,625.5 1243.4,625.1 1244.4,626.1 1245.5,627.7 1246.5,628.9 1247.6,628.3 1248.7,628.0 1249.8,628.8 1250.9,628.6 1252.1,626.6 1253.4,625.0 1254.7,622.9 1256.0,622.5 1257.2,621.6 1258.4,621.1 1259.5,620.5 1260.7,621.0 1261.9,620.4 1263.1,619.9 1264.3,619.8 1265.5,620.3 1266.8,620.5 1268.1,622.1 1269.4,622.5 1270.7,620.9 1272.0,619.2 1273.3,618.3 1274.5,618.3 1275.7,618.2 1276.9,617.7 1278.1,619.1 1279.3,622.3 1280.4,624.4 1281.6,625.5 1282.8,626.5 1284.0,628.9 1285.2,630.1 1286.4,630.4 1287.5,632.1 1288.9,630.9 1290.2,629.3 1291.5,627.7 1292.8,628.8 1294.1,629.9 1295.4,630.9 1296.7,629.3 1298.1,628.2 1299.4,626.9 1300.6,626.7 1301.7,626.1 1302.9,625.5 1304.1,625.8 1305.3,626.3 1306.5,625.2 1307.6,625.5 1308.8,626.8 1310.0,627.6 1311.2,627.5 1312.4,628.6 1313.6,628.4 1314.9,626.6 1316.2,626.4 1317.5,624.6 1318.7,623.3 1319.9,621.7 1321.1,623.3 1322.2,626.2 1323.6,625.4 1324.9,624.5 1326.2,625.7 1327.4,624.7 1328.5,624.0 1329.7,623.3 1330.9,623.5 1332.0,623.7 1333.0,622.8 1334.1,622.5 1335.3,623.7 1336.4,623.9 1337.6,623.6 1338.8,622.2 1340.1,621.6 1341.4,620.2 1342.7,619.0 1343.9,618.9 1345.1,620.2 1346.3,619.3 1347.5,618.6 1349.1,621.9 1350.6,631.8 1351.8,629.7 1353.0,626.8 1354.2,627.3 1355.4,625.0 1356.5,623.8 1357.7,623.5 1359.0,623.0 1360.3,621.8 1361.5,622.2 1362.8,622.7 1364.0,622.6 1365.2,623.0 1366.4,623.0 1367.6,623.3 1368.8,622.0 1370.1,621.5 1371.4,621.8 1372.7,621.2 1374.0,622.4 1375.3,621.9 1376.7,621.0 1377.8,619.7 1379.0,618.5 1380.2,619.2 1381.4,619.8 1382.7,617.7 1384.0,616.1 1385.3,616.5 1386.4,617.0 1387.4,617.7 1388.5,617.6 1389.8,616.2 1391.1,616.5 1392.4,614.8 1393.6,613.2 1394.8,613.3 1396.0,613.2 1397.2,613.7 1398.3,613.0 1399.5,612.8 1400.7,612.9 1401.9,614.5 1403.2,613.9 1404.5,614.3 1405.8,613.9 1407.2,616.4 1408.5,618.8 1409.7,617.4 1410.9,616.6 1412.1,615.1 1413.3,614.6 1414.5,613.3 1415.7,613.2 1416.9,613.4 1418.2,612.5 1419.5,612.0 1420.8,611.3 1421.9,609.3 1423.0,609.0 1424.1,609.0 1425.2,607.9 1426.3,606.6 1427.5,606.5 1428.7,607.2 1429.7,607.6 1430.8,610.1 1431.8,611.1 1433.0,607.2 1434.1,603.8 1435.3,599.3 1436.7,600.7 1438.1,601.7 1439.2,602.6 1440.2,602.1 1441.3,603.2 1442.5,605.6 1443.7,606.7 1445.0,604.1 1446.3,603.4 1447.6,604.4 1448.8,603.7 1450.0,603.6 1451.2,603.3 1452.3,602.7 1453.4,602.5 1454.5,602.1 1455.6,602.4 1456.8,602.7 1457.9,602.6 1459.2,602.2 1460.5,600.9 1461.8,600.3 1463.1,600.0 1464.5,598.9 1465.7,599.1 1466.9,601.2 1468.1,601.8 1469.3,603.4 1470.4,605.1 1471.6,607.6 1472.8,606.1 1474.0,605.1 1475.2,604.5 1476.5,603.8 1477.8,602.6 1479.1,601.5 1480.5,601.6 1481.8,603.5 1483.1,605.0 1484.4,605.4 1485.7,605.9 1487.0,606.6 1488.2,604.3 1489.4,602.0 1491.0,604.2 1492.0,603.3 1493.1,602.6 1494.1,600.7 1495.2,599.1 1496.2,598.9 1497.3,597.9 1498.3,597.3 1499.4,596.2 1500.4,596.0 1501.8,595.7 1503.1,596.2 1504.4,597.3 1505.7,593.8 1507.0,592.8 1508.3,591.9 1509.5,594.0 1510.7,595.0 1512.0,594.1 1513.3,593.9 1514.6,594.5 1515.7,594.4 1516.7,593.1 1517.8,592.6 1519.0,592.2 1520.2,592.1 1521.3,590.4 1522.5,587.0 1523.6,587.6 1524.6,587.5 1525.7,586.9 1526.7,587.8 1527.8,587.9 1528.8,589.8 1529.9,590.3 1530.9,591.7 1532.0,592.6 1532.8,594.6 1534.0,594.2 1535.1,594.4 1536.3,593.8 1537.5,594.5 1538.8,593.0 1540.1,590.9 1541.5,589.4 1542.5,589.9 1543.6,589.4 1544.6,590.7 1545.9,591.1 1547.2,591.8 1548.5,592.5 1549.9,593.8 1551.2,594.7 1552.5,595.0 1553.5,594.7 1554.6,593.4 1555.6,592.1 1556.7,593.2 1557.7,593.3 1558.8,592.7 1560.0,592.7 1561.2,591.0 1562.2,592.1 1563.3,591.7 1564.3,593.3 1565.4,591.5 1566.4,588.9 1567.5,588.3 1568.7,589.5 1569.8,590.1 1570.9,589.4 1571.9,588.6" stroke="#FFC000"/>
<polyline points="132.6,691.2 133.9,691.9 135.1,691.5 136.4,692.2 137.7,693.2 138.9,694.5 140.2,694.3 141.5,693.7 142.7,694.8 144.0,694.0 145.2,693.9 146.5,693.7 147.8,693.6 149.0,694.0 150.3,694.0 151.5,695.1 152.8,696.2 154.1,696.1 155.3,696.4 156.6,695.2 157.9,694.4 159.1,693.6 160.4,695.7 161.6,695.8 162.9,696.8 164.2,695.7 165.4,695.2 166.7,695.9 167.9,693.6 169.2,693.3 170.5,692.3 171.7,691.9 173.0,691.4 174.3,690.8 175.5,691.3 176.8,691.6 178.0,691.3 179.3,690.8 180.6,690.1 181.8,689.2 183.1,689.6 184.4,689.0 185.6,688.8 186.9,689.4 188.1,689.1 189.4,688.6 190.7,689.1 191.9,690.0 193.2,689.2 194.4,689.6 195.7,688.8 197.0,689.2 198.2,689.4 199.5,688.8 200.8,689.5 202.0,690.4 203.3,689.7 204.5,690.1 205.8,689.3 207.1,690.2 208.3,690.0 209.6,689.1 210.9,689.4 212.1,688.9 213.4,688.9 214.6,688.1 215.9,689.7 217.2,691.0 218.4,690.6 219.7,690.4 220.9,690.4 222.2,690.4 223.5,691.1 224.7,691.7 226.0,690.8 227.3,690.9 228.5,690.2 229.8,690.5 231.0,690.0 232.3,689.3 233.6,689.6 234.8,689.7 236.1,690.3 237.4,690.6 238.6,691.1 239.9,690.2 241.1,689.6 242.4,690.0 243.7,689.7 244.9,690.4 246.2,689.7 247.4,690.1 248.7,689.9 250.0,689.1 251.2,688.5 252.5,688.1 253.8,688.0 255.0,688.3 256.3,688.5 257.5,687.6 258.8,686.6 260.1,686.0 261.3,686.4 262.6,687.1 263.8,686.8 265.1,687.0 266.4,687.2 267.6,686.4 268.9,685.3 270.2,685.6 271.4,685.5 272.7,684.9 273.9,683.6 275.2,682.5 276.5,681.3 277.7,680.5 279.0,681.3 280.3,683.3 281.5,682.4 282.8,681.9 284.0,682.4 285.3,682.9 286.6,682.1 287.8,681.3 289.1,682.1 290.3,682.3 291.6,683.4 292.9,684.0 294.1,685.0 295.4,686.0 296.7,684.7 297.9,683.8 299.2,682.9 300.4,682.5 301.7,682.1 303.0,681.5 304.2,680.7 305.5,679.9 306.8,679.5 308.0,679.4 309.3,680.7 310.5,681.3 311.8,681.2 313.1,681.2 314.3,681.4 315.6,680.3 316.8,679.0 318.1,677.5 319.4,676.8 320.6,676.8 321.9,676.1 323.2,675.8 324.4,677.4 325.7,675.8 326.9,674.2 328.2,672.5 329.5,670.4 330.7,667.7 332.0,665.3 333.2,661.7 334.5,662.5 335.8,663.3 337.0,663.1 338.3,663.5 339.6,663.4 340.8,664.8 342.1,665.7 343.3,667.5 344.6,668.0 345.9,669.5 347.1,669.0 348.4,667.8 349.7,666.6 350.9,666.6 352.1,666.3 353.2,667.7 354.4,668.5 355.6,668.7 356.7,667.9 357.9,668.1 359.1,668.3 360.4,668.0 361.7,669.3 362.9,671.3 364.2,671.3 365.4,672.4 366.6,673.6 367.7,673.3 368.9,673.6 370.1,673.0 371.3,672.4 372.5,670.9 373.7,670.4 374.8,668.9 376.0,668.1 377.2,665.7 378.4,664.6 379.5,663.4 380.6,662.8 381.8,662.7 382.9,661.8 384.0,662.8 385.2,661.3 386.3,660.6 387.5,660.9 388.8,660.6 390.1,659.7 391.3,658.5 392.6,657.8 393.8,658.4 395.0,658.5 396.1,659.0 397.3,658.9 398.6,657.7 399.8,656.2 401.1,656.2 402.4,654.9 403.6,653.5 404.9,652.7 406.2,650.6 407.4,648.5 408.7,647.7 409.9,645.7 411.0,646.1 412.0,648.0 413.1,648.9 414.4,649.3 415.6,648.1 416.9,648.5 418.1,647.0 419.4,645.0 420.5,644.7 421.7,644.2 422.8,643.6 423.9,643.4 425.0,643.7 426.2,642.6 427.3,642.4 428.5,641.6 429.8,643.6 431.1,644.4 432.3,645.1 433.6,645.9 434.9,648.1 436.1,650.0 437.4,652.0 438.6,653.4 439.9,654.8 441.1,653.7 442.3,651.4 443.5,651.1 444.6,649.5 445.9,648.0 447.2,648.2 448.4,647.7 449.7,647.6 450.9,647.3 452.1,648.3 453.3,648.2 454.5,647.1 455.7,646.2 456.9,647.1 458.0,647.5 459.2,648.7 460.4,648.7 461.6,647.8 462.8,646.5 464.0,646.3 465.1,644.0 466.3,646.5 467.5,649.1 468.7,650.8 469.9,652.6 471.2,655.1 472.5,658.7 473.8,662.0 475.1,658.6 476.4,655.7 477.8,651.2 479.0,651.8 480.3,651.8 481.5,652.1 482.8,651.9 484.1,652.5 485.3,652.1 486.4,651.1 487.6,650.5 488.8,649.3 490.0,650.3 491.2,649.9 492.4,650.0 493.5,651.4 494.8,651.1 496.1,649.5 497.3,648.5 498.6,647.3 499.8,647.4 501.2,648.3 502.5,649.1 503.8,649.8 505.1,654.3 506.4,658.8 507.7,663.1 508.9,661.8 510.1,660.1 511.3,659.4 512.5,658.0 513.7,657.3 515.0,657.2 516.2,656.7 517.5,655.7 518.8,655.1 520.0,653.4 521.1,652.6 522.3,652.7 523.5,653.1 524.7,653.1 525.9,653.7 527.1,654.3 528.2,654.9 529.5,654.5 530.8,654.2 532.0,653.6 533.3,652.0 534.5,651.0 535.8,649.0 537.1,648.4 538.3,647.8 539.6,647.5 540.9,646.7 542.1,647.1 543.4,647.8 544.6,647.0 545.9,646.6 547.2,646.8 548.4,647.3 549.7,647.4 550.9,648.0 552.2,647.2 553.5,647.7 554.6,647.8 555.7,647.5 556.8,646.7 558.0,645.6 559.1,645.0 560.2,644.0 561.4,642.6 562.6,642.5 563.9,643.2 565.1,643.5 566.4,643.7 567.7,644.8 568.7,645.1 569.8,646.2 570.8,647.4 571.9,646.3 572.9,645.9 574.0,644.6 575.1,644.9 576.2,644.1 577.4,642.4 578.5,642.7 579.6,643.6 580.7,643.6 581.9,644.0 583.2,645.9 584.5,649.7 585.8,652.8 586.9,651.5 588.0,651.0 589.1,649.9 590.2,649.8 591.3,647.3 592.6,647.7 593.8,647.3 595.1,646.0 596.4,645.4 597.6,644.4 598.9,643.7 600.2,643.9 601.4,643.3 602.7,644.3 603.9,643.6 605.0,644.2 606.2,645.3 607.3,646.0 608.4,647.1 609.5,648.1 610.6,646.3 611.7,644.5 612.8,643.6 613.9,644.4 615.0,644.3 616.2,644.8 617.4,645.2 618.5,645.8 619.7,646.7 620.9,647.7 622.1,649.2 623.3,650.8 624.4,653.8 625.6,654.3 626.8,656.4 628.0,657.3 629.2,659.3 630.4,658.8 631.5,657.8 632.7,657.5 633.9,656.1 635.1,657.4 636.3,656.8 637.5,657.7 638.6,657.8 639.8,656.2 641.0,653.7 642.2,650.9 643.4,649.3 644.7,650.2 646.0,650.7 647.4,650.4 648.7,651.7 650.3,648.7 651.4,650.9 652.6,652.8 653.7,651.1 654.7,649.9 655.8,647.5 657.0,647.2 658.1,645.6 659.3,645.0 660.5,643.0 661.6,643.1 662.6,643.4 663.7,642.1 665.0,640.1 666.3,637.5 667.6,635.8 668.9,636.3 670.2,636.9 671.5,637.9 672.6,638.8 673.8,638.4 674.9,638.7 676.0,638.9 677.1,639.4 678.2,637.8 679.3,637.0 680.4,636.4 681.5,634.6 682.6,634.6 683.8,633.8 685.0,634.4 686.1,636.2 687.3,635.7 688.6,636.2 689.8,636.7 691.1,638.0 692.4,638.2 693.6,638.4 694.7,638.9 695.7,641.4 696.8,644.1 697.8,645.8 698.9,646.8 699.9,648.4 701.1,646.7 702.3,646.1 703.5,647.4 704.7,648.2 706.0,646.4 707.3,645.6 708.6,642.9 709.9,642.2 711.2,641.8 712.6,642.1 713.7,641.3 714.9,641.4 716.1,641.1 717.3,641.1 718.5,641.1 719.7,640.2 720.8,638.8 722.0,638.0 723.2,636.5 724.4,635.2 725.6,634.2 726.8,633.9 727.9,633.6 729.1,632.3 730.3,631.6 731.5,632.1 732.8,631.3 734.1,631.6 735.4,630.9 736.7,630.9 738.1,633.3 739.4,634.3 740.6,632.6 741.7,632.5 742.9,631.3 744.1,632.0 745.3,631.9 746.5,631.7 747.6,630.8 748.8,630.9 750.0,632.0 751.2,631.6 752.4,632.6 753.6,631.7 754.9,632.6 756.2,634.2 757.5,635.7 758.8,635.6 760.1,637.2 761.5,637.8 762.5,636.8 763.6,636.2 764.6,634.9 765.9,633.8 767.2,633.7 768.5,632.7 769.7,633.3 770.8,634.0 771.9,633.8 773.0,635.4 774.1,635.6 775.3,636.9 776.4,637.0 777.6,637.3 778.8,638.4 780.0,638.9 781.2,638.5 782.4,638.4 783.5,638.9 784.7,640.3 785.9,640.5 787.1,640.1 788.3,639.5 789.3,641.5 790.4,643.9 791.4,646.6 792.5,647.0 793.5,648.7 794.6,649.0 795.8,647.3 796.9,646.6 798.1,645.7 799.3,644.3 800.5,644.8 801.7,643.9 802.9,645.0 804.0,645.1 805.2,646.4 806.4,645.4 807.6,645.6 808.8,643.6 810.0,644.5 811.1,643.4 812.3,642.7 813.5,641.7 814.8,641.1 816.0,641.2 817.3,642.5 818.5,640.7 819.8,641.7 820.9,640.8 822.0,639.7 823.1,638.5 824.2,638.0 825.3,636.1 826.6,636.0 828.0,636.4 829.3,637.7 830.5,637.5 831.8,637.4 833.1,637.5 834.3,638.7 835.6,637.5 836.7,638.4 837.8,639.6 838.9,640.5 840.0,640.6 841.3,639.0 842.5,637.4 843.8,635.6 845.0,633.3 846.3,633.7 847.6,633.1 848.8,633.1 850.1,633.0 851.4,632.9 852.5,632.4 853.7,631.9 854.9,630.6 856.1,630.6 857.4,628.5 858.7,628.8 860.0,627.9 861.3,629.7 862.7,629.5 864.0,629.8 865.2,629.2 866.3,628.5 867.5,628.4 868.7,628.6 869.9,629.3 871.1,629.2 872.3,630.0 873.4,629.9 874.5,630.5 875.6,631.1 876.8,631.3 877.9,633.2 879.0,633.4 880.3,633.2 881.6,632.8 882.9,631.2 884.2,630.5 885.5,630.2 886.8,629.3 887.9,629.5 889.1,630.3 890.2,632.0 891.3,633.4 892.4,635.2 893.4,631.2 894.5,628.5 895.5,625.1 896.8,625.1 898.1,624.9 899.5,624.1 900.6,625.7 901.7,625.8 902.8,625.9 903.9,625.8 905.0,626.6 906.2,626.7 907.4,627.5 908.5,628.4 909.7,628.0 911.0,627.0 912.2,626.2 913.5,625.4 914.8,624.6 916.0,624.3 917.2,623.8 918.4,624.2 919.6,624.3 920.8,625.1 921.9,624.2 923.1,624.9 924.3,625.7 925.5,626.3 926.7,626.6 927.9,626.5 929.0,626.6 930.2,627.8 931.3,629.0 932.3,631.4 933.4,634.0 934.6,631.1 935.9,627.8 937.1,626.1 938.3,624.4 939.5,624.6 940.6,625.1 941.8,623.8 943.1,622.9 944.5,621.8 945.8,621.2 947.0,620.6 948.1,621.8 949.3,620.4 950.5,619.8 951.7,618.7 952.9,618.5 954.1,617.6 955.2,617.4 956.4,616.1 957.6,617.1 958.8,616.3 960.0,614.7 961.2,615.0 962.3,614.7 963.5,614.1 964.7,614.8 965.8,613.7 966.9,613.8 968.0,612.8 969.1,612.8 970.2,612.0 971.4,613.1 972.6,613.8 973.8,614.3 975.0,614.9 976.1,614.2 977.3,613.6 978.5,612.2 979.7,611.7 980.9,614.4 982.1,614.3 983.2,615.9 984.4,616.2 985.6,617.5 986.8,617.8 988.0,619.8 989.1,619.8 990.3,617.9 991.5,615.4 992.7,614.8 993.9,612.5 995.2,613.4 996.5,614.3 997.8,615.8 999.0,615.4 1000.2,615.0 1001.4,614.3 1002.6,614.8 1003.9,615.8 1005.2,618.4 1006.5,621.1 1007.8,624.7 1009.1,628.9 1010.4,631.4 1011.8,626.6 1013.1,621.5 1014.4,616.4 1015.6,623.8 1016.8,631.7 1017.8,637.5 1018.9,642.4 1019.9,647.1 1021.1,652.7 1022.2,659.6 1023.4,665.0 1024.8,657.2 1026.2,648.5 1027.3,644.8 1028.3,642.3 1029.4,639.1 1030.7,636.0 1032.0,631.9 1033.3,628.1 1034.9,637.5 1035.9,634.6 1037.0,632.7 1038.0,629.9 1039.1,629.2 1040.1,630.1 1041.2,631.4 1042.5,628.3 1043.8,623.5 1045.1,620.1 1046.3,619.5 1047.5,618.3 1048.7,616.4 1049.9,614.8 1051.2,613.8 1052.5,614.4 1053.8,614.2 1055.0,616.1 1056.2,617.3 1057.4,619.8 1058.5,620.9 1059.7,619.4 1060.9,615.1 1062.1,611.7 1063.3,608.6 1064.3,610.4 1065.4,612.7 1066.4,614.7 1067.5,616.0 1068.5,615.9 1069.6,616.9 1070.6,620.9 1071.7,625.8 1072.7,632.6 1073.9,627.5 1075.1,622.7 1076.2,622.3 1077.2,621.8 1078.3,620.5 1079.3,618.1 1080.4,616.0 1081.4,614.1 1082.7,611.0 1084.0,607.9 1085.4,604.4 1086.7,603.7 1088.0,601.9 1089.3,599.6 1090.4,598.3 1091.4,596.9 1092.5,595.2 1093.5,590.1 1094.6,587.2 1095.6,581.9 1096.9,585.3 1098.2,588.5 1099.6,591.2 1100.9,592.1 1102.2,593.3 1103.5,595.4 1104.7,596.1 1105.9,596.4 1107.1,597.4 1108.2,598.4 1109.3,600.2 1110.3,604.0 1111.5,609.8 1112.6,617.9 1113.8,615.6 1115.0,613.0 1116.1,609.6 1117.3,609.7 1118.5,609.2 1119.7,609.5 1120.9,611.1 1122.0,614.7 1123.2,617.3 1124.4,619.7 1125.6,622.2 1126.6,619.4 1127.7,616.1 1128.7,612.9 1130.1,612.0 1131.4,611.5 1132.7,610.9 1133.7,613.6 1134.8,614.8 1135.8,617.6 1137.2,618.4 1138.5,618.8 1139.8,619.7 1141.0,619.0 1142.1,618.1 1143.5,620.4 1144.8,622.1 1146.1,623.9 1147.3,623.6 1148.5,623.5 1149.5,625.8 1150.6,627.1 1151.6,627.3 1152.7,626.3 1153.7,624.2 1154.8,623.0 1155.8,622.5 1156.9,621.0 1157.9,617.6 1159.2,618.8 1160.5,618.7 1161.9,620.5 1163.2,619.5 1164.5,617.4 1165.8,616.5 1167.1,617.1 1168.4,617.5 1169.7,616.7 1171.1,618.4 1172.4,619.9 1173.7,622.2 1175.0,622.8 1176.3,623.9 1177.6,625.4 1178.8,625.3 1180.0,624.6 1181.2,623.3 1182.4,623.8 1183.6,624.0 1184.9,623.9 1186.2,623.2 1187.4,622.7 1188.7,623.5 1189.9,623.5 1191.0,624.6 1192.2,625.7 1193.4,626.0 1194.5,626.6 1195.5,628.7 1196.6,631.0 1197.9,629.3 1199.2,627.3 1200.5,626.8 1201.5,623.0 1202.6,618.8 1204.1,610.1 1205.2,600.5 1206.2,592.6 1207.1,583.9 1208.2,591.7 1209.2,600.3 1210.4,602.1 1211.5,604.4 1212.9,602.8 1214.2,603.3 1215.5,603.0 1216.8,603.0 1218.1,601.5 1219.4,599.1 1220.7,597.6 1222.1,594.4 1223.4,591.4 1224.4,592.2 1225.5,593.7 1226.5,594.2 1227.7,593.2 1228.9,591.6 1230.2,591.2 1231.5,591.5 1232.6,589.9 1233.6,587.8 1234.7,586.6 1235.9,586.3 1237.1,585.1 1238.2,585.6 1239.4,586.7 1240.6,587.8 1241.8,591.8 1243.4,579.7 1244.6,578.4 1245.7,577.3 1246.8,577.9 1247.8,578.3 1248.9,577.9 1249.9,575.0 1251.0,573.9 1252.1,572.1 1253.2,570.9 1254.4,568.8 1255.6,569.8 1256.8,571.9 1257.8,570.0 1258.9,568.5 1259.9,567.2 1261.3,561.8 1262.6,555.9 1263.6,556.1 1264.7,558.7 1265.9,562.3 1267.0,567.0 1268.2,566.6 1269.4,565.9 1270.6,569.8 1271.8,573.1 1272.9,573.5 1274.1,575.0 1275.3,573.5 1276.5,570.3 1277.7,573.9 1278.9,576.1 1280.3,580.0 1281.7,582.2 1282.8,582.9 1283.9,582.9 1284.9,581.5 1286.0,579.0 1287.1,576.5 1288.3,573.9 1289.4,573.5 1290.4,571.9 1291.5,571.3 1292.7,570.2 1293.8,568.5 1295.0,569.6 1296.2,570.7 1297.3,569.3 1298.3,569.0 1299.4,567.5 1300.6,562.9 1301.7,559.7 1302.9,558.7 1304.1,558.6 1305.3,557.3 1306.5,556.6 1307.6,556.5 1308.8,557.4 1310.0,558.2 1311.2,560.7 1312.4,556.3 1313.6,553.8 1314.6,552.3 1315.7,551.5 1316.7,551.3 1317.9,552.5 1319.1,553.2 1320.1,553.4 1321.2,551.6 1322.2,550.4 1323.6,549.9 1324.9,548.9 1326.2,546.1 1327.5,544.7 1328.8,542.9 1330.1,542.3 1331.2,540.2 1332.2,537.0 1333.3,535.1 1334.5,534.9 1335.6,534.7 1336.8,536.9 1338.0,537.3 1339.2,541.7 1340.4,542.8 1341.6,540.4 1342.7,538.2 1343.8,537.3 1344.8,536.0 1345.9,533.5 1347.1,532.5 1348.3,529.6 1349.4,543.7 1350.6,556.4 1352.2,556.0 1353.4,548.0 1354.6,539.5 1355.8,537.5 1356.9,536.2 1358.1,539.4 1359.3,541.3 1360.4,540.4 1361.4,537.5 1362.5,534.9 1363.6,532.8 1364.8,530.5 1366.0,533.3 1367.2,534.6 1368.2,533.0 1369.3,532.4 1370.3,531.1 1371.5,527.4 1372.7,525.8 1373.9,524.0 1375.1,524.0 1376.1,522.0 1377.2,522.2 1378.2,522.4 1379.3,521.1 1380.3,517.3 1381.4,513.9 1382.6,511.6 1383.8,508.1 1384.9,509.5 1386.1,510.8 1387.2,508.6 1388.2,509.2 1389.3,507.5 1390.3,510.3 1391.4,512.1 1392.4,514.7 1393.6,511.9 1394.8,510.3 1395.8,510.0 1396.9,509.7 1397.9,507.9 1399.0,507.5 1400.1,505.7 1401.1,505.7 1402.2,505.5 1403.2,504.4 1404.3,504.2 1405.3,505.6 1406.4,508.0 1407.4,510.2 1408.4,513.0 1409.5,513.7 1410.8,511.6 1412.1,505.7 1413.2,506.8 1414.2,505.5 1415.3,504.3 1416.4,503.1 1417.4,501.3 1418.5,498.8 1419.6,497.9 1420.8,497.3 1421.9,498.5 1422.9,498.6 1424.0,498.4 1425.2,498.6 1426.3,497.6 1427.5,496.8 1428.7,496.0 1429.8,492.2 1430.8,487.6 1431.9,480.9 1432.9,481.1 1434.0,481.7 1435.0,482.6 1436.2,482.8 1437.4,481.5 1438.6,482.3 1439.7,479.9 1441.1,483.3 1442.4,485.6 1443.7,486.2 1444.7,484.9 1445.8,482.3 1446.8,477.8 1447.9,474.6 1448.9,472.6 1450.0,471.9 1451.2,471.1 1452.4,469.1 1453.4,471.9 1454.5,473.9 1455.5,475.4 1456.6,472.3 1457.6,469.2 1458.7,466.8 1459.7,464.6 1460.8,465.4 1461.8,463.9 1462.9,463.3 1463.9,463.6 1465.0,465.0 1466.0,467.2 1467.1,470.6 1468.1,473.2 1469.2,475.5 1470.2,476.2 1471.3,479.8 1472.6,475.6 1473.9,475.0 1475.2,472.5 1476.6,471.6 1477.9,472.6 1479.2,473.4 1480.2,471.5 1481.3,471.7 1482.3,470.9 1483.4,472.9 1484.4,473.7 1485.5,474.9 1486.7,473.9 1487.9,475.6 1489.0,477.0 1490.2,477.9 1491.3,475.7 1492.3,476.9 1493.4,473.2 1494.4,470.6 1495.5,470.1 1496.5,468.7 1497.6,465.7 1498.6,463.9 1499.7,461.3 1500.4,461.6 1501.6,463.4 1502.8,464.4 1503.9,463.1 1504.9,459.0 1506.0,458.3 1507.1,456.0 1508.3,456.2 1509.5,455.4 1510.7,453.7 1511.7,455.6 1512.8,458.6 1513.8,460.1 1515.0,454.5 1516.2,449.0 1517.4,445.5 1518.6,443.9 1519.9,444.3 1521.2,444.7 1522.5,444.1 1523.8,442.8 1525.2,441.5 1526.5,440.1 1527.5,444.1 1528.6,446.1 1529.6,451.0 1531.0,455.7 1532.3,460.8 1533.4,460.1 1534.5,458.9 1535.6,458.7 1536.7,459.1 1537.8,456.2 1538.8,454.9 1539.9,453.1 1540.9,453.5 1542.0,453.6 1543.0,455.2 1544.1,453.4 1545.1,453.5 1546.2,454.3 1547.2,456.8 1548.3,458.4 1549.3,458.7 1550.4,461.6 1551.4,464.3 1552.5,466.4 1553.5,461.6 1554.6,457.9 1555.6,454.0 1556.7,455.7 1557.7,455.4 1558.8,456.2 1560.0,455.7 1561.2,452.7 1562.4,449.9 1563.5,448.5 1564.6,443.8 1565.6,436.9 1566.9,441.0 1568.3,444.1 1569.5,442.8 1570.7,442.2 1571.9,443.1" stroke="#4472C4"/>
<polyline points="132.6,691.2 133.9,693.7 135.1,694.6 136.4,696.0 137.7,696.7 138.9,697.5 140.2,698.2 141.5,698.6 142.7,697.5 144.0,696.2 145.2,693.9 146.5,693.6 147.8,693.9 149.0,695.0 150.3,696.1 151.5,698.1 152.8,696.8 154.1,698.2 155.3,698.9 156.6,699.8 157.9,700.4 159.1,701.3 160.4,702.1 161.6,702.8 162.9,700.7 164.2,700.1 165.4,699.7 166.7,698.8 167.9,698.6 169.2,696.8 170.5,695.7 171.7,694.8 173.0,694.8 174.3,695.1 175.5,694.1 176.8,693.4 178.0,694.5 179.3,694.8 180.6,695.7 181.8,696.6 183.1,695.9 184.4,694.9 185.6,693.5 186.9,693.8 188.1,692.2 189.4,692.6 190.7,692.5 191.9,691.7 193.2,692.5 194.4,693.7 195.7,695.0 197.0,694.6 198.2,695.2 199.5,695.2 200.8,694.6 202.0,694.1 203.3,694.0 204.5,693.9 205.8,693.4 207.1,693.9 208.3,693.6 209.6,694.9 210.9,695.4 212.1,694.9 213.4,694.3 214.6,694.2 215.9,692.9 217.2,693.3 218.4,694.9 219.7,695.0 220.9,694.7 222.2,696.0 223.5,695.4 224.7,695.4 226.0,694.6 227.3,694.2 228.5,692.8 229.8,692.6 231.0,690.7 232.3,690.8 233.6,690.3 234.8,690.6 236.1,689.3 237.4,689.0 238.6,689.8 239.9,689.2 241.1,688.8 242.4,687.8 243.7,687.7 244.9,687.8 246.2,688.4 247.4,688.4 248.7,689.4 250.0,689.3 251.2,688.7 252.5,688.3 253.8,687.8 255.0,687.8 256.3,687.9 257.5,687.3 258.8,686.2 260.1,685.4 261.3,684.4 262.6,683.3 263.8,681.6 265.1,680.4 266.4,678.9 267.6,678.1 268.9,677.1 270.2,675.7 271.4,676.1 272.7,677.4 273.9,678.0 275.2,678.9 276.5,678.6 277.7,679.1 279.0,678.7 280.3,677.5 281.5,676.2 282.8,676.2 284.0,676.3 285.3,676.9 286.6,676.9 287.8,676.9 289.1,677.8 290.3,677.0 291.6,677.1 292.9,677.4 294.1,678.5 295.4,680.3 296.7,680.1 297.9,679.4 299.2,679.4 300.4,678.7 301.7,677.9 303.0,677.1 304.2,677.1 305.5,677.1 306.8,675.8 308.0,675.1 309.3,674.7 310.5,675.7 311.8,674.5 313.1,673.9 314.3,673.1 315.6,672.7 316.8,671.6 318.1,670.9 319.4,670.4 320.6,668.9 321.9,668.5 323.2,668.4 324.4,668.3 325.7,668.2 326.9,666.9 328.2,665.5 329.5,665.5 330.7,665.0 332.0,663.5 333.2,664.3 334.5,664.8 335.8,664.6 337.0,663.7 338.1,662.3 339.2,661.2 340.3,660.0 341.5,659.9 342.7,661.4 344.0,664.3 345.2,667.9 346.5,669.6 347.6,669.0 348.7,667.5 349.8,666.7 350.9,665.4 352.1,666.5 353.2,666.2 354.4,666.9 355.6,666.6 356.7,667.1 357.9,667.3 359.1,668.9 360.4,668.8 361.7,669.1 362.9,671.1 364.2,672.1 365.5,672.4 366.7,671.0 368.0,670.4 369.2,670.0 370.5,669.5 371.6,669.1 372.8,667.9 373.9,667.5 375.0,666.6 376.1,665.4 377.3,665.2 378.4,663.8 379.5,662.3 380.6,662.7 381.8,661.8 382.9,661.0 384.0,660.7 385.2,660.6 386.3,659.7 387.5,658.7 388.8,657.8 390.1,657.9 391.3,657.1 392.6,656.1 393.7,656.6 394.8,657.1 396.0,658.1 397.1,657.0 398.2,656.4 399.3,655.9 400.5,656.2 401.7,655.2 403.0,655.1 404.3,652.7 405.5,652.7 406.8,652.0 408.0,651.4 409.3,651.6 410.6,651.4 411.8,650.5 413.1,650.9 414.4,650.7 415.6,649.7 416.9,649.1 418.1,647.8 419.4,647.1 420.5,646.4 421.7,646.7 422.8,646.6 423.9,646.0 425.0,645.2 426.2,644.4 427.3,645.8 428.5,646.7 429.8,647.0 431.1,648.7 432.3,649.7 433.6,650.0 434.9,651.6 436.1,654.2 437.4,656.1 438.6,658.8 439.9,659.9 441.0,657.8 442.1,655.3 443.2,652.9 444.3,651.1 445.4,649.2 446.5,649.5 447.6,649.7 448.7,648.9 449.8,648.9 450.9,648.8 452.2,648.4 453.5,647.3 454.7,646.7 456.0,646.1 457.3,646.2 458.4,645.2 459.6,645.7 460.8,645.0 462.0,644.0 463.0,641.3 464.1,639.6 465.1,637.4 466.2,640.0 467.2,643.4 468.3,645.1 469.3,645.9 470.4,646.5 471.5,645.4 472.6,649.3 473.8,652.9 475.1,650.8 476.4,649.7 477.8,646.9 479.0,648.4 480.3,647.9 481.5,649.2 482.8,648.4 484.1,648.8 485.3,649.0 486.4,648.8 487.6,648.6 488.8,648.4 490.0,650.1 491.2,651.5 492.4,652.5 493.5,654.4 494.7,653.3 495.9,652.0 497.1,651.4 498.3,651.1 499.6,648.8 500.9,647.0 502.2,645.7 503.4,650.1 504.6,654.8 505.8,659.0 506.9,663.9 508.3,661.2 509.6,658.6 510.9,656.5 512.1,655.8 513.4,653.9 514.7,652.2 515.9,651.9 517.2,651.3 518.5,650.4 519.7,649.6 521.0,649.4 522.2,649.4 523.5,649.5 525.1,644.8 526.1,645.8 527.2,647.1 528.2,647.8 529.3,646.3 530.3,643.9 531.4,642.9 532.6,642.9 533.8,642.6 534.9,642.1 536.1,640.3 537.3,641.5 538.5,641.7 539.7,642.8 540.9,642.4 542.1,643.2 543.4,642.5 544.6,641.2 545.9,640.3 547.2,638.7 548.4,637.4 549.7,636.6 550.9,637.5 552.2,636.0 553.5,635.3 554.7,633.1 555.8,630.3 557.0,633.5 558.2,635.4 559.5,635.9 560.7,637.2 562.0,637.2 563.2,637.0 564.5,636.8 565.7,637.1 566.9,636.4 568.1,636.2 569.2,636.0 570.4,635.9 571.6,636.1 572.8,636.2 574.0,636.1 575.2,635.2 576.5,634.4 577.8,633.8 579.0,634.2 580.3,633.6 581.5,634.3 582.6,635.3 583.8,638.3 585.0,639.8 586.3,638.4 587.5,637.2 588.8,636.8 590.1,637.0 591.3,636.3 592.6,636.3 593.8,635.8 595.1,636.6 596.4,635.5 597.6,635.5 598.8,636.2 600.0,636.2 601.2,636.9 602.4,636.3 603.5,636.4 604.7,635.5 605.9,635.9 607.1,636.5 608.2,635.8 609.3,632.4 610.4,631.9 611.5,630.7 612.6,629.2 613.9,629.5 615.2,628.7 616.6,627.5 617.7,628.7 618.9,628.6 620.1,629.0 621.3,629.5 622.3,630.6 623.4,631.1 624.4,632.7 625.5,632.0 626.6,632.0 627.6,631.7 628.7,633.1 629.7,635.9 630.8,638.0 631.9,637.1 633.1,638.8 634.3,638.3 635.5,640.0 636.7,638.3 637.9,635.6 639.0,632.0 640.2,630.4 641.3,629.9 642.3,629.7 643.4,628.2 644.7,628.5 646.0,629.6 647.4,630.8 648.7,632.5 649.7,630.2 650.8,628.4 651.8,625.8 653.4,628.9 654.5,627.3 655.6,624.1 656.7,622.7 657.8,621.9 658.9,619.0 660.2,618.2 661.5,618.6 662.7,616.9 664.0,616.9 665.2,616.6 666.5,617.6 667.8,618.5 669.0,618.6 670.3,619.8 671.5,619.2 672.7,619.6 673.9,618.9 675.1,620.5 676.3,619.5 677.5,619.2 678.6,618.1 679.8,616.9 681.0,615.6 682.3,615.1 683.5,615.1 684.8,615.7 686.1,615.1 687.3,614.7 688.4,612.9 689.5,612.5 690.6,612.2 691.7,612.0 692.8,611.1 694.2,612.7 695.5,614.1 696.8,615.7 698.1,615.7 699.4,615.3 700.7,614.8 701.8,616.8 702.8,616.9 703.9,617.5 705.2,616.1 706.5,613.5 707.8,613.5 709.1,613.3 710.5,612.4 711.8,612.3 713.1,614.0 714.4,614.8 715.7,613.5 716.9,613.9 718.1,611.2 719.3,610.9 720.4,608.8 721.5,606.7 722.6,604.9 723.8,603.6 724.9,602.3 726.0,599.8 727.1,599.1 728.2,598.9 729.3,597.5 730.4,596.9 731.5,596.5 732.7,595.1 733.8,594.9 735.0,593.1 736.2,593.2 737.3,593.5 738.3,595.6 739.4,598.3 740.6,597.6 741.7,597.7 742.9,597.1 744.1,596.3 745.3,596.6 746.5,596.3 747.6,596.4 748.8,596.6 750.1,595.9 751.5,596.1 752.8,594.6 754.1,595.8 755.4,596.0 756.7,598.1 758.0,600.0 759.3,601.6 760.7,603.0 762.0,601.6 763.3,600.2 764.6,600.1 765.9,600.3 767.2,600.4 768.5,599.2 769.7,600.5 770.8,601.5 771.9,602.7 773.0,604.1 774.1,604.9 775.1,603.6 776.2,603.0 777.2,603.3 778.3,602.9 779.3,604.5 780.4,607.1 781.6,606.2 782.7,605.5 783.9,604.7 785.1,603.6 786.3,603.8 787.5,604.3 788.7,605.6 789.8,607.2 791.0,609.7 792.2,611.0 793.4,613.5 794.6,615.6 795.9,613.0 797.2,609.5 798.5,607.2 799.6,607.0 800.7,606.4 801.8,606.9 802.9,606.3 804.0,605.0 805.2,605.0 806.4,604.0 807.6,603.3 808.8,603.2 810.0,604.0 811.3,605.9 812.6,605.3 813.8,606.1 815.1,607.5 816.3,606.9 817.4,606.4 818.6,606.7 819.8,605.0 820.9,605.3 821.9,606.0 823.0,605.7 824.0,603.8 825.1,602.7 826.1,602.9 827.2,603.1 828.2,604.7 829.3,604.8 830.5,603.6 831.6,603.6 832.8,603.4 834.0,602.6 835.2,604.9 836.4,606.1 837.6,607.9 838.8,610.7 840.0,611.8 841.3,611.5 842.5,609.6 843.8,606.9 845.0,604.2 846.2,605.2 847.4,603.7 848.6,603.3 849.8,603.2 851.0,602.3 852.1,602.0 853.3,602.0 854.5,603.0 855.8,602.6 857.0,601.5 858.3,600.9 859.6,600.8 860.8,599.4 862.0,598.4 863.2,596.5 864.4,596.5 865.6,596.3 866.9,597.0 868.2,595.7 869.5,596.1 870.5,597.5 871.6,597.5 872.6,597.2 873.7,595.8 874.8,593.7 875.8,593.1 877.1,591.9 878.4,590.7 879.7,590.6 880.9,591.8 882.1,592.7 883.3,593.8 884.5,595.2 885.7,597.2 886.8,599.2 888.0,599.8 889.2,601.0 890.5,603.8 891.8,605.2 893.2,607.2 894.5,604.4 895.8,601.1 897.1,596.1 898.3,594.4 899.5,592.4 900.6,590.4 901.8,587.9 903.1,587.7 904.5,586.3 905.8,585.6 907.1,588.2 908.4,589.7 909.7,591.9 910.9,594.4 912.1,597.3 913.3,598.5 914.4,601.5 915.8,599.1 917.1,597.0 918.4,596.0 919.5,594.6 920.6,593.7 921.7,592.5 922.8,592.3 923.9,591.9 925.1,594.2 926.3,594.1 927.5,595.7 928.6,595.5 929.8,597.7 931.0,599.7 932.2,602.0 933.4,603.3 934.5,602.8 935.6,601.2 936.8,599.7 937.9,598.1 939.0,597.0 940.1,597.1 941.2,596.9 942.3,596.6 943.4,596.4 944.6,593.5 945.8,590.2 947.1,590.8 948.4,591.9 949.7,591.9 951.0,592.1 952.3,591.6 953.7,589.9 955.0,588.0 956.3,585.6 957.6,585.5 958.8,585.6 960.0,587.2 961.2,588.2 962.3,589.2 963.6,589.7 965.0,589.7 966.3,588.5 967.6,587.5 968.9,587.3 970.2,587.4 971.5,589.2 972.8,590.5 974.2,591.9 975.2,589.6 976.3,586.5 977.3,583.3 978.5,580.4 979.7,577.4 980.7,579.2 981.8,582.2 982.8,584.4 984.2,585.7 985.5,587.0 986.8,588.2 988.0,587.8 989.1,589.5 990.2,585.1 991.3,582.4 992.3,580.5 993.4,581.8 994.4,582.2 995.5,581.0 996.5,583.4 997.6,584.2 998.6,585.2 999.9,584.0 1001.2,584.8 1002.6,584.7 1003.9,586.5 1005.2,586.9 1006.5,588.2 1007.5,592.5 1008.6,597.7 1009.7,603.4 1010.8,596.8 1012.0,590.9 1013.2,589.3 1014.4,586.8 1015.6,591.7 1016.8,596.7 1017.9,602.3 1019.1,609.7 1020.1,613.9 1021.2,619.6 1022.4,624.1 1024.0,616.7 1025.3,611.8 1026.5,606.8 1027.8,601.1 1028.8,598.4 1029.9,594.6 1030.9,590.9 1032.1,589.1 1033.3,585.0 1034.9,599.0 1036.1,589.9 1037.3,580.9 1038.3,579.9 1039.4,580.2 1040.4,580.3 1041.5,577.2 1042.5,575.4 1043.6,573.6 1044.9,572.7 1046.2,572.5 1047.5,571.7 1048.6,571.3 1049.6,569.8 1050.7,569.3 1051.8,568.1 1053.0,567.0 1054.1,569.0 1055.1,573.6 1056.2,576.6 1057.2,577.7 1058.3,579.6 1059.3,581.1 1060.4,577.7 1061.4,573.5 1062.5,571.0 1063.7,571.1 1064.9,572.0 1066.0,572.3 1067.2,570.9 1068.3,573.6 1069.3,574.7 1070.4,576.1 1071.6,582.6 1072.7,588.8 1074.3,581.3 1075.6,579.0 1077.0,578.5 1078.3,578.8 1079.6,574.5 1080.9,569.3 1082.2,565.9 1083.5,565.4 1084.8,565.8 1086.2,565.5 1087.2,565.7 1088.3,567.1 1089.3,568.0 1090.5,569.2 1091.7,568.7 1092.9,569.7 1094.0,571.2 1095.2,568.8 1096.4,567.0 1097.5,565.9 1098.5,566.7 1099.6,566.1 1100.7,569.1 1101.9,573.9 1103.0,573.9 1104.0,576.1 1105.1,576.3 1106.3,575.1 1107.4,574.5 1108.5,578.0 1109.5,581.2 1110.6,584.0 1111.8,589.5 1113.0,593.9 1114.0,590.4 1115.1,587.8 1116.1,585.5 1117.3,585.2 1118.5,586.3 1119.7,586.5 1120.9,585.2 1122.0,589.0 1123.2,591.4 1124.4,593.5 1125.6,597.2 1126.6,594.2 1127.7,592.5 1128.7,590.7 1130.1,590.8 1131.4,590.6 1132.7,590.2 1133.7,591.5 1134.8,592.0 1135.8,594.4 1137.2,593.7 1138.5,593.7 1139.8,593.1 1141.0,592.7 1142.1,592.1 1143.3,592.6 1144.5,592.4 1145.8,594.1 1147.0,593.8 1148.3,592.5 1149.6,592.1 1150.8,592.9 1152.1,590.5 1153.4,589.5 1154.8,588.0 1155.8,586.4 1156.9,583.7 1157.9,581.1 1159.0,582.4 1160.0,585.0 1161.1,588.0 1162.4,586.7 1163.7,588.5 1165.0,588.5 1166.1,589.6 1167.1,590.2 1168.2,592.3 1169.2,590.6 1170.3,588.9 1171.3,588.7 1172.4,590.8 1173.4,592.0 1174.5,594.4 1175.5,596.2 1176.6,598.0 1177.6,599.1 1178.8,599.0 1180.0,598.1 1181.2,596.6 1182.4,595.3 1183.5,594.9 1184.7,594.5 1185.9,595.1 1187.1,593.4 1188.3,593.4 1189.5,593.9 1190.6,594.3 1191.8,595.8 1193.0,595.6 1194.2,598.2 1195.4,599.7 1196.6,599.2 1197.6,598.3 1198.7,596.5 1199.7,595.2 1200.9,593.8 1202.1,591.5 1203.0,578.6 1203.9,564.6 1205.5,551.6 1207.1,545.4 1208.7,560.9 1209.7,565.9 1210.7,570.2 1212.1,568.4 1213.4,566.2 1214.6,566.9 1215.8,568.2 1216.8,564.3 1217.9,560.2 1218.9,557.4 1220.2,554.8 1221.6,553.3 1222.9,551.7 1224.2,550.2 1225.5,549.0 1226.8,549.3 1228.4,556.7 1229.6,552.8 1230.8,548.6 1231.8,547.3 1232.9,546.0 1233.9,545.7 1235.1,540.7 1236.3,537.8 1237.5,533.2 1238.5,538.0 1239.4,544.3 1240.5,547.9 1241.5,552.8 1242.8,545.5 1244.2,537.0 1245.3,539.8 1246.5,541.1 1247.7,537.1 1248.9,534.0 1250.1,528.2 1251.3,520.4 1252.4,517.7 1253.6,515.6 1254.6,515.4 1255.5,514.5 1256.5,509.9 1257.6,503.5 1258.8,497.6 1259.9,491.0 1261.3,481.3 1262.6,470.2 1263.6,480.1 1264.7,488.5 1265.9,495.8 1267.0,504.0 1268.2,507.6 1269.4,516.3 1270.6,517.6 1271.8,521.8 1272.8,519.7 1273.9,518.7 1274.9,517.8 1276.5,514.6 1278.1,523.0 1279.4,528.8 1280.8,535.0 1281.8,530.0 1282.8,528.8 1284.0,528.2 1285.2,528.6 1286.4,534.8 1287.4,530.8 1288.3,524.7 1289.4,524.8 1290.4,523.4 1291.5,521.7 1292.7,521.7 1293.8,520.5 1295.0,522.6 1296.2,522.2 1297.3,521.1 1298.3,520.2 1299.4,518.7 1300.6,515.8 1301.7,512.8 1302.9,511.6 1304.1,510.7 1305.3,511.8 1306.5,510.4 1307.6,511.7 1308.8,514.6 1310.0,518.7 1311.2,519.8 1312.4,516.7 1313.6,513.8 1314.6,511.3 1315.7,511.4 1316.7,512.4 1317.9,510.4 1319.1,511.8 1320.1,513.5 1321.1,516.7 1322.5,513.5 1323.8,513.3 1325.0,514.1 1326.2,513.7 1327.2,513.2 1328.3,511.4 1329.3,510.0 1330.4,509.2 1331.4,507.0 1332.5,505.4 1333.8,505.8 1335.1,504.2 1336.4,503.4 1337.5,502.9 1338.5,502.1 1339.6,501.2 1340.8,500.4 1342.0,500.3 1343.1,503.6 1344.3,505.3 1345.9,513.2 1347.1,506.9 1348.3,500.6 1349.4,510.9 1350.6,520.6 1352.2,503.3 1353.8,491.6 1355.0,492.1 1356.2,494.0 1357.3,491.5 1358.5,492.1 1359.7,495.8 1360.9,501.6 1361.9,499.8 1363.0,498.4 1364.0,497.8 1365.1,498.3 1366.1,498.6 1367.2,497.6 1368.4,498.2 1369.6,499.3 1370.7,496.9 1371.9,493.3 1373.0,492.4 1374.0,490.4 1375.1,489.5 1376.1,488.5 1377.2,489.0 1378.2,488.4 1379.3,487.9 1380.3,489.8 1381.4,491.5 1382.6,491.4 1383.8,489.0 1384.8,490.8 1385.9,494.0 1386.9,496.3 1388.0,495.7 1389.0,493.4 1390.1,492.0 1391.2,491.4 1392.4,491.2 1393.5,489.0 1394.5,488.5 1395.6,488.0 1396.6,485.6 1397.7,484.7 1398.7,485.5 1399.8,484.9 1400.8,484.1 1401.9,484.0 1402.9,482.4 1404.0,480.8 1405.0,481.1 1406.2,480.9 1407.4,479.7 1408.4,483.6 1409.5,486.9 1410.8,479.5 1412.1,471.1 1413.2,468.7 1414.2,468.7 1415.3,468.9 1416.5,467.7 1417.7,465.9 1418.7,466.1 1419.8,467.6 1420.8,467.6 1421.9,464.9 1422.9,464.8 1424.0,462.6 1425.0,462.3 1426.1,461.7 1427.1,461.5 1428.2,461.5 1429.2,461.7 1430.3,460.1 1431.5,456.9 1432.6,453.2 1433.7,453.2 1434.8,451.8 1435.8,451.8 1437.1,451.3 1438.4,449.9 1439.7,449.4 1440.9,450.2 1442.0,453.2 1443.1,454.8 1444.2,455.1 1445.5,452.2 1446.8,450.7 1448.4,447.4 1449.6,446.5 1450.8,444.7 1451.8,444.3 1452.9,442.6 1453.9,440.1 1454.9,436.8 1456.0,432.6 1456.3,430.8 1457.9,416.7 1459.0,410.6 1460.2,410.3 1461.3,409.7 1462.3,406.3 1463.4,404.4 1464.4,405.2 1465.5,408.2 1466.5,411.5 1467.6,412.2 1468.6,411.2 1469.7,411.9 1470.9,414.9 1472.1,419.8 1473.1,418.9 1474.2,415.8 1475.2,412.7 1476.5,411.0 1477.8,410.5 1479.1,409.9 1480.5,410.4 1481.8,409.7 1483.1,405.4 1484.1,407.9 1485.2,408.3 1486.2,408.8 1487.3,412.0 1488.3,413.5 1489.4,412.6 1490.7,414.7 1492.0,416.0 1493.3,418.2 1494.4,416.2 1495.4,415.0 1496.5,411.4 1497.8,409.8 1499.1,409.2 1500.4,409.2 1501.6,409.9 1502.8,411.5 1503.9,409.6 1504.9,408.8 1506.0,406.4 1507.0,406.2 1508.1,403.8 1509.1,403.1 1510.3,402.6 1511.5,405.8 1512.7,406.0 1513.8,410.6 1515.4,392.8 1517.0,381.2 1518.2,375.4 1519.4,371.6 1520.4,370.1 1521.5,368.7 1522.5,366.8 1523.6,367.4 1524.6,368.8 1525.7,370.4 1526.9,372.3 1528.0,373.2 1529.6,386.0 1531.0,393.0 1532.3,400.1 1533.3,391.7 1534.4,386.9 1535.4,386.6 1536.5,385.5 1537.5,387.6 1538.8,385.5 1540.1,382.3 1541.5,378.7 1542.5,374.6 1543.6,373.3 1544.6,371.4 1546.2,376.3 1547.4,381.2 1548.5,386.7 1549.7,382.4 1550.9,375.5 1552.1,370.3 1553.3,363.4 1554.5,357.3 1555.6,351.7 1556.7,351.8 1557.7,348.9 1558.8,347.9 1560.0,349.7 1561.2,348.8 1562.4,347.1 1563.5,344.7 1564.7,346.2 1565.9,342.6 1567.1,335.8 1568.3,331.8 1569.8,333.0 1570.9,328.0 1571.9,323.4" stroke="#70AD47"/>
</g>
<g class="ax" text-anchor="end">
<text transform="translate(138.9,725.9) rotate(-45)" font-size="25.3" font-weight="300">日期</text>
<text transform="translate(198.0,724.2) rotate(-45)">2021-03-19</text>
<text transform="translate(257.2,724.2) rotate(-45)">2021-06-03</text>
<text transform="translate(316.3,724.2) rotate(-45)">2021-08-13</text>
<text transform="translate(375.5,724.2) rotate(-45)">2021-11-02</text>
<text transform="translate(434.7,724.2) rotate(-45)">2022-01-12</text>
<text transform="translate(493.9,724.2) rotate(-45)">2022-03-30</text>
<text transform="translate(553.1,724.2) rotate(-45)">2022-06-16</text>
<text transform="translate(612.2,724.2) rotate(-45)">2022-08-25</text>
<text transform="translate(671.4,724.2) rotate(-45)">2022-11-11</text>
<text transform="translate(730.6,724.2) rotate(-45)">2023-01-30</text>
<text transform="translate(789.8,724.2) rotate(-45)">2023-04-11</text>
<text transform="translate(849.0,724.2) rotate(-45)">2023-06-27</text>
<text transform="translate(908.1,724.2) rotate(-45)">2023-09-05</text>
<text transform="translate(967.3,724.2) rotate(-45)">2023-11-22</text>
<text transform="translate(1026.5,724.2) rotate(-45)">2024-02-01</text>
<text transform="translate(1085.7,724.2) rotate(-45)">2024-04-23</text>
<text transform="translate(1144.9,724.2) rotate(-45)">2024-07-08</text>
<text transform="translate(1204.0,724.2) rotate(-45)">2024-09-18</text>
<text transform="translate(1263.2,724.2) rotate(-45)">2024-12-04</text>
<text transform="translate(1322.4,724.2) rotate(-45)">2025-02-21</text>
<text transform="translate(1381.6,724.2) rotate(-45)">2025-05-08</text>
<text transform="translate(1440.8,724.2) rotate(-45)">2025-07-18</text>
<text transform="translate(1499.9,724.2) rotate(-45)">2025-09-26</text>
<text transform="translate(1559.1,724.2) rotate(-45)">2025-12-15</text>
</g>
<g stroke-width="3.1" stroke-linecap="round">
<line x1="1625.6" y1="304.6" x2="1665.4" y2="304.6" stroke="#FF0000"/>
<line x1="1625.6" y1="347.4" x2="1665.4" y2="347.4" stroke="#ED7D31"/>
<line x1="1625.6" y1="390.1" x2="1665.4" y2="390.1" stroke="#7030A0"/>
<line x1="1625.6" y1="432.9" x2="1665.4" y2="432.9" stroke="#FFC000"/>
<line x1="1625.6" y1="475.6" x2="1665.4" y2="475.6" stroke="#4472C4"/>
<line x1="1625.6" y1="518.4" x2="1665.4" y2="518.4" stroke="#70AD47"/>
</g>
<g class="lg">
<text x="1670.8" y="313.2">沪深300累计收益率</text>
<text x="1670.8" y="356.0">非亏损微盘</text>
<text x="1670.8" y="398.7">绩优微盘</text>
<text x="1670.8" y="441.5">全A价值市净因子</text>
<text x="1670.8" y="484.2">全A价值市值因子</text>
<text x="1670.8" y="527.0">地量低波</text>
</g>
</svg></body></html>
